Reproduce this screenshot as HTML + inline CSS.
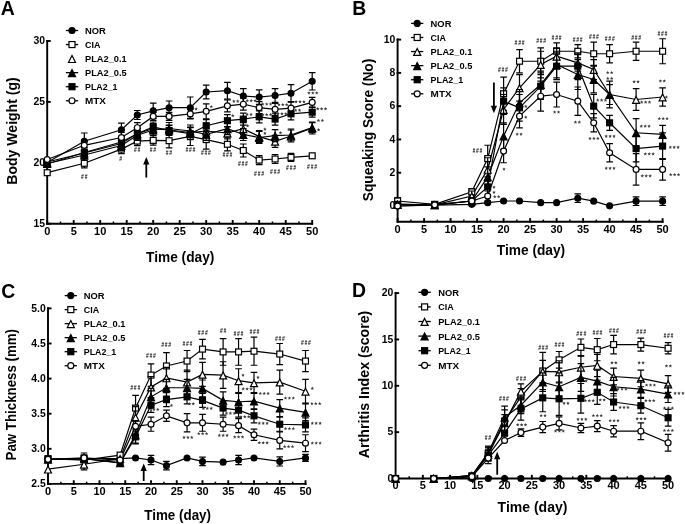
<!DOCTYPE html>
<html><head><meta charset="utf-8"><title>Figure</title>
<style>html,body{margin:0;padding:0;background:#fff;width:685px;height:524px;overflow:hidden}
svg text{font-family:"Liberation Sans", sans-serif} svg{will-change:transform}</style></head>
<body><svg width="685" height="524" viewBox="0 0 685 524" style="display:block"><g stroke="#000" stroke-width="1.9" fill="none" stroke-linecap="square">
<path d="M47.2 40.9V223.7H312.2"/>
<path d="M47.2 223.7h2.6"/>
<path d="M47.2 162.8h2.6"/>
<path d="M47.2 101.9h2.6"/>
<path d="M47.2 41h2.6"/>
<path d="M47.2 223.7v-2.7"/>
<path d="M73.7 223.7v-2.7"/>
<path d="M100.2 223.7v-2.7"/>
<path d="M126.7 223.7v-2.7"/>
<path d="M153.2 223.7v-2.7"/>
<path d="M179.7 223.7v-2.7"/>
<path d="M206.2 223.7v-2.7"/>
<path d="M232.7 223.7v-2.7"/>
<path d="M259.2 223.7v-2.7"/>
<path d="M285.7 223.7v-2.7"/>
<path d="M312.2 223.7v-2.7"/>
</g>
<g stroke="#000" stroke-width="1.5" fill="none">
<path d="M60.45 223.7v-2.2"/>
<path d="M86.95 223.7v-2.2"/>
<path d="M113.45 223.7v-2.2"/>
<path d="M139.95 223.7v-2.2"/>
<path d="M166.45 223.7v-2.2"/>
<path d="M192.95 223.7v-2.2"/>
<path d="M219.45 223.7v-2.2"/>
<path d="M245.95 223.7v-2.2"/>
<path d="M272.45 223.7v-2.2"/>
<path d="M298.95 223.7v-2.2"/>
</g>
<g font-family='"Liberation Sans", sans-serif' fill="#000">
<text x="45" y="226.9" font-size="10.4" font-weight="bold" text-anchor="end">15</text>
<text x="45" y="166" font-size="10.4" font-weight="bold" text-anchor="end">20</text>
<text x="45" y="105.1" font-size="10.4" font-weight="bold" text-anchor="end">25</text>
<text x="45" y="44.2" font-size="10.4" font-weight="bold" text-anchor="end">30</text>
<text x="47.2" y="234.6" font-size="11" font-weight="bold" text-anchor="middle">0</text>
<text x="73.7" y="234.6" font-size="11" font-weight="bold" text-anchor="middle">5</text>
<text x="100.2" y="234.6" font-size="11" font-weight="bold" text-anchor="middle">10</text>
<text x="126.7" y="234.6" font-size="11" font-weight="bold" text-anchor="middle">15</text>
<text x="153.2" y="234.6" font-size="11" font-weight="bold" text-anchor="middle">20</text>
<text x="179.7" y="234.6" font-size="11" font-weight="bold" text-anchor="middle">25</text>
<text x="206.2" y="234.6" font-size="11" font-weight="bold" text-anchor="middle">30</text>
<text x="232.7" y="234.6" font-size="11" font-weight="bold" text-anchor="middle">35</text>
<text x="259.2" y="234.6" font-size="11" font-weight="bold" text-anchor="middle">40</text>
<text x="285.7" y="234.6" font-size="11" font-weight="bold" text-anchor="middle">45</text>
<text x="312.2" y="234.6" font-size="11" font-weight="bold" text-anchor="middle">50</text>
<text x="0.8" y="15" font-size="19.4" font-weight="bold" text-anchor="start">A</text>
<text transform="translate(16.9 131) rotate(-90)" x="0" y="0" font-size="14" font-weight="bold" text-anchor="middle" textLength="107.4" lengthAdjust="spacingAndGlyphs">Body Weight (g)</text>
<text x="146" y="261.9" font-size="14" font-weight="bold" textLength="68.4" lengthAdjust="spacingAndGlyphs">Time (day)</text>
</g>
<g font-family='"Liberation Sans", sans-serif' fill="#000">
<path d="M65.85 30.5h12.3" stroke="#000" stroke-width="1.3"/>
<circle cx="72" cy="30.5" r="3" fill="#000" stroke="#000" stroke-width="1.2"/>
<text x="85" y="33.9" font-size="9.8" font-weight="bold" textLength="20.8" lengthAdjust="spacingAndGlyphs">NOR</text>
<path d="M65.85 44.55h12.3" stroke="#000" stroke-width="1.3"/>
<rect x="69" y="41.55" width="6" height="6" fill="#fff" stroke="#000" stroke-width="1.2"/>
<text x="85" y="47.95" font-size="9.8" font-weight="bold" textLength="15.4" lengthAdjust="spacingAndGlyphs">CIA</text>
<path d="M72 55.5L75.53 62.49L68.47 62.49Z" fill="#fff" stroke="#000" stroke-width="1.2" stroke-linejoin="miter"/>
<text x="85" y="62" font-size="9.8" font-weight="bold" textLength="41.7" lengthAdjust="spacingAndGlyphs">PLA2_0.1</text>
<path d="M65.85 72.65h12.3" stroke="#000" stroke-width="1.3"/>
<path d="M72 69.55L75.53 76.54L68.47 76.54Z" fill="#000" stroke="#000" stroke-width="1.2" stroke-linejoin="miter"/>
<text x="85" y="76.05" font-size="9.8" font-weight="bold" textLength="41.7" lengthAdjust="spacingAndGlyphs">PLA2_0.5</text>
<path d="M65.85 86.7h12.3" stroke="#000" stroke-width="1.3"/>
<rect x="69" y="83.7" width="6" height="6" fill="#000" stroke="#000" stroke-width="1.2"/>
<text x="85" y="90.1" font-size="9.8" font-weight="bold" textLength="32.5" lengthAdjust="spacingAndGlyphs">PLA2_1</text>
<path d="M65.85 100.75h12.3" stroke="#000" stroke-width="1.3"/>
<circle cx="72" cy="100.75" r="3" fill="#fff" stroke="#000" stroke-width="1.2"/>
<text x="85" y="104.15" font-size="9.8" font-weight="bold" textLength="21" lengthAdjust="spacingAndGlyphs">MTX</text>
</g>
<polyline points="47.2,162.5 84.3,141.2 121.4,129.7 137.3,115 153.2,110.8 169.1,107.7 190.3,107.7 206.2,92 227.4,90.7 243.3,96 259.2,97.1 275.1,95.5 291,93.2 312.2,81.3" fill="none" stroke="#000" stroke-width="1.2"/>
<polyline points="47.2,172.7 84.3,163.3 121.4,149.1 137.3,141.1 153.2,140.4 169.1,140.7 190.3,136.3 206.2,139.6 227.4,144.3 243.3,150.5 259.2,160.1 275.1,159 291,157.4 312.2,155.8" fill="none" stroke="#000" stroke-width="1.2"/>
<polyline points="47.2,162 84.3,153 121.4,143.5 137.3,133.6 153.2,128.5 169.1,130 190.3,132.5 206.2,131 227.4,133 243.3,128.7 259.2,136.6 275.1,141.3 291,136 312.2,128" fill="none" stroke="#000" stroke-width="1.2"/>
<polyline points="47.2,163.5 84.3,155 121.4,145.5 137.3,135.3 153.2,130 169.1,128.5 190.3,131 206.2,134.4 227.4,128.7 243.3,134.5 259.2,137.5 275.1,135.6 291,135 312.2,127.6" fill="none" stroke="#000" stroke-width="1.2"/>
<polyline points="47.2,164 84.3,152.5 121.4,142 137.3,133.7 153.2,127 169.1,130.5 190.3,133.7 206.2,125.7 227.4,120.7 243.3,119.1 259.2,116.8 275.1,119.1 291,113.8 312.2,112.2" fill="none" stroke="#000" stroke-width="1.2"/>
<polyline points="47.2,159.5 84.3,145.3 121.4,137.5 137.3,127.7 153.2,116.4 169.1,116.4 190.3,113.9 206.2,111.3 227.4,105.8 243.3,104.2 259.2,107.7 275.1,109.3 291,108.1 312.2,102.4" fill="none" stroke="#000" stroke-width="1.2"/>
<path d="M47.2 159V166M43.9 159h6.6M43.9 166h6.6" stroke="#000" stroke-width="1.2" fill="none"/><circle cx="47.2" cy="162.5" r="2.95" fill="#000" stroke="#000" stroke-width="1.2"/><path d="M84.3 133V149.4M81 133h6.6M81 149.4h6.6" stroke="#000" stroke-width="1.2" fill="none"/><circle cx="84.3" cy="141.2" r="2.95" fill="#000" stroke="#000" stroke-width="1.2"/><path d="M121.4 123.1V136.3M118.1 123.1h6.6M118.1 136.3h6.6" stroke="#000" stroke-width="1.2" fill="none"/><circle cx="121.4" cy="129.7" r="2.95" fill="#000" stroke="#000" stroke-width="1.2"/><path d="M137.3 110.5V119.5M134 110.5h6.6M134 119.5h6.6" stroke="#000" stroke-width="1.2" fill="none"/><circle cx="137.3" cy="115" r="2.95" fill="#000" stroke="#000" stroke-width="1.2"/><path d="M153.2 103.2V118.4M149.9 103.2h6.6M149.9 118.4h6.6" stroke="#000" stroke-width="1.2" fill="none"/><circle cx="153.2" cy="110.8" r="2.95" fill="#000" stroke="#000" stroke-width="1.2"/><path d="M169.1 101V114.4M165.8 101h6.6M165.8 114.4h6.6" stroke="#000" stroke-width="1.2" fill="none"/><circle cx="169.1" cy="107.7" r="2.95" fill="#000" stroke="#000" stroke-width="1.2"/><path d="M190.3 97V118.4M187 97h6.6M187 118.4h6.6" stroke="#000" stroke-width="1.2" fill="none"/><circle cx="190.3" cy="107.7" r="2.95" fill="#000" stroke="#000" stroke-width="1.2"/><path d="M206.2 85.1V98.9M202.9 85.1h6.6M202.9 98.9h6.6" stroke="#000" stroke-width="1.2" fill="none"/><circle cx="206.2" cy="92" r="2.95" fill="#000" stroke="#000" stroke-width="1.2"/><path d="M227.4 82.4V99M224.1 82.4h6.6M224.1 99h6.6" stroke="#000" stroke-width="1.2" fill="none"/><circle cx="227.4" cy="90.7" r="2.95" fill="#000" stroke="#000" stroke-width="1.2"/><path d="M243.3 88.6V103.4M240 88.6h6.6M240 103.4h6.6" stroke="#000" stroke-width="1.2" fill="none"/><circle cx="243.3" cy="96" r="2.95" fill="#000" stroke="#000" stroke-width="1.2"/><path d="M259.2 89.8V104.4M255.9 89.8h6.6M255.9 104.4h6.6" stroke="#000" stroke-width="1.2" fill="none"/><circle cx="259.2" cy="97.1" r="2.95" fill="#000" stroke="#000" stroke-width="1.2"/><path d="M275.1 88.6V102.4M271.8 88.6h6.6M271.8 102.4h6.6" stroke="#000" stroke-width="1.2" fill="none"/><circle cx="275.1" cy="95.5" r="2.95" fill="#000" stroke="#000" stroke-width="1.2"/><path d="M291 84.7V101.7M287.7 84.7h6.6M287.7 101.7h6.6" stroke="#000" stroke-width="1.2" fill="none"/><circle cx="291" cy="93.2" r="2.95" fill="#000" stroke="#000" stroke-width="1.2"/><path d="M312.2 72.6V90M308.9 72.6h6.6M308.9 90h6.6" stroke="#000" stroke-width="1.2" fill="none"/><circle cx="312.2" cy="81.3" r="2.95" fill="#000" stroke="#000" stroke-width="1.2"/>
<rect x="44.25" y="169.75" width="5.9" height="5.9" fill="#fff" stroke="#000" stroke-width="1.2"/><path d="M84.3 158.8V167.8M81 158.8h6.6M81 167.8h6.6" stroke="#000" stroke-width="1.2" fill="none"/><rect x="81.35" y="160.35" width="5.9" height="5.9" fill="#fff" stroke="#000" stroke-width="1.2"/><path d="M121.4 144.6V153.6M118.1 144.6h6.6M118.1 153.6h6.6" stroke="#000" stroke-width="1.2" fill="none"/><rect x="118.45" y="146.15" width="5.9" height="5.9" fill="#fff" stroke="#000" stroke-width="1.2"/><path d="M137.3 136.6V145.6M134 136.6h6.6M134 145.6h6.6" stroke="#000" stroke-width="1.2" fill="none"/><rect x="134.35" y="138.15" width="5.9" height="5.9" fill="#fff" stroke="#000" stroke-width="1.2"/><path d="M153.2 135.7V145.1M149.9 135.7h6.6M149.9 145.1h6.6" stroke="#000" stroke-width="1.2" fill="none"/><rect x="150.25" y="137.45" width="5.9" height="5.9" fill="#fff" stroke="#000" stroke-width="1.2"/><path d="M169.1 133.6V147.8M165.8 133.6h6.6M165.8 147.8h6.6" stroke="#000" stroke-width="1.2" fill="none"/><rect x="166.15" y="137.75" width="5.9" height="5.9" fill="#fff" stroke="#000" stroke-width="1.2"/><path d="M190.3 127.1V145.5M187 127.1h6.6M187 145.5h6.6" stroke="#000" stroke-width="1.2" fill="none"/><rect x="187.35" y="133.35" width="5.9" height="5.9" fill="#fff" stroke="#000" stroke-width="1.2"/><path d="M206.2 130.1V149.1M202.9 130.1h6.6M202.9 149.1h6.6" stroke="#000" stroke-width="1.2" fill="none"/><rect x="203.25" y="136.65" width="5.9" height="5.9" fill="#fff" stroke="#000" stroke-width="1.2"/><path d="M227.4 137.8V150.8M224.1 137.8h6.6M224.1 150.8h6.6" stroke="#000" stroke-width="1.2" fill="none"/><rect x="224.45" y="141.35" width="5.9" height="5.9" fill="#fff" stroke="#000" stroke-width="1.2"/><path d="M243.3 144V157M240 144h6.6M240 157h6.6" stroke="#000" stroke-width="1.2" fill="none"/><rect x="240.35" y="147.55" width="5.9" height="5.9" fill="#fff" stroke="#000" stroke-width="1.2"/><path d="M259.2 155.6V164.6M255.9 155.6h6.6M255.9 164.6h6.6" stroke="#000" stroke-width="1.2" fill="none"/><rect x="256.25" y="157.15" width="5.9" height="5.9" fill="#fff" stroke="#000" stroke-width="1.2"/><path d="M275.1 154.5V163.5M271.8 154.5h6.6M271.8 163.5h6.6" stroke="#000" stroke-width="1.2" fill="none"/><rect x="272.15" y="156.05" width="5.9" height="5.9" fill="#fff" stroke="#000" stroke-width="1.2"/><path d="M291 153.4V161.4M287.7 153.4h6.6M287.7 161.4h6.6" stroke="#000" stroke-width="1.2" fill="none"/><rect x="288.05" y="154.45" width="5.9" height="5.9" fill="#fff" stroke="#000" stroke-width="1.2"/><rect x="309.25" y="152.85" width="5.9" height="5.9" fill="#fff" stroke="#000" stroke-width="1.2"/>
<path d="M47.2 158.95L50.68 165.83L43.72 165.83Z" fill="#fff" stroke="#000" stroke-width="1.2" stroke-linejoin="miter"/><path d="M84.3 148V158M81 148h6.6M81 158h6.6" stroke="#000" stroke-width="1.2" fill="none"/><path d="M84.3 149.95L87.78 156.83L80.82 156.83Z" fill="#fff" stroke="#000" stroke-width="1.2" stroke-linejoin="miter"/><path d="M121.4 138.5V148.5M118.1 138.5h6.6M118.1 148.5h6.6" stroke="#000" stroke-width="1.2" fill="none"/><path d="M121.4 140.45L124.88 147.33L117.92 147.33Z" fill="#fff" stroke="#000" stroke-width="1.2" stroke-linejoin="miter"/><path d="M137.3 128.6V138.6M134 128.6h6.6M134 138.6h6.6" stroke="#000" stroke-width="1.2" fill="none"/><path d="M137.3 130.55L140.78 137.43L133.82 137.43Z" fill="#fff" stroke="#000" stroke-width="1.2" stroke-linejoin="miter"/><path d="M153.2 123.5V133.5M149.9 123.5h6.6M149.9 133.5h6.6" stroke="#000" stroke-width="1.2" fill="none"/><path d="M153.2 125.45L156.68 132.33L149.72 132.33Z" fill="#fff" stroke="#000" stroke-width="1.2" stroke-linejoin="miter"/><path d="M169.1 125V135M165.8 125h6.6M165.8 135h6.6" stroke="#000" stroke-width="1.2" fill="none"/><path d="M169.1 126.95L172.58 133.83L165.62 133.83Z" fill="#fff" stroke="#000" stroke-width="1.2" stroke-linejoin="miter"/><path d="M190.3 127.5V137.5M187 127.5h6.6M187 137.5h6.6" stroke="#000" stroke-width="1.2" fill="none"/><path d="M190.3 129.45L193.78 136.33L186.82 136.33Z" fill="#fff" stroke="#000" stroke-width="1.2" stroke-linejoin="miter"/><path d="M206.2 126V136M202.9 126h6.6M202.9 136h6.6" stroke="#000" stroke-width="1.2" fill="none"/><path d="M206.2 127.95L209.68 134.83L202.72 134.83Z" fill="#fff" stroke="#000" stroke-width="1.2" stroke-linejoin="miter"/><path d="M227.4 127V139M224.1 127h6.6M224.1 139h6.6" stroke="#000" stroke-width="1.2" fill="none"/><path d="M227.4 129.95L230.88 136.83L223.92 136.83Z" fill="#fff" stroke="#000" stroke-width="1.2" stroke-linejoin="miter"/><path d="M243.3 122.7V134.7M240 122.7h6.6M240 134.7h6.6" stroke="#000" stroke-width="1.2" fill="none"/><path d="M243.3 125.65L246.78 132.53L239.82 132.53Z" fill="#fff" stroke="#000" stroke-width="1.2" stroke-linejoin="miter"/><path d="M259.2 130.6V142.6M255.9 130.6h6.6M255.9 142.6h6.6" stroke="#000" stroke-width="1.2" fill="none"/><path d="M259.2 133.55L262.68 140.43L255.72 140.43Z" fill="#fff" stroke="#000" stroke-width="1.2" stroke-linejoin="miter"/><path d="M275.1 135.3V147.3M271.8 135.3h6.6M271.8 147.3h6.6" stroke="#000" stroke-width="1.2" fill="none"/><path d="M275.1 138.25L278.58 145.13L271.62 145.13Z" fill="#fff" stroke="#000" stroke-width="1.2" stroke-linejoin="miter"/><path d="M291 130V142M287.7 130h6.6M287.7 142h6.6" stroke="#000" stroke-width="1.2" fill="none"/><path d="M291 132.95L294.48 139.83L287.52 139.83Z" fill="#fff" stroke="#000" stroke-width="1.2" stroke-linejoin="miter"/><path d="M312.2 122V134M308.9 122h6.6M308.9 134h6.6" stroke="#000" stroke-width="1.2" fill="none"/><path d="M312.2 124.95L315.68 131.83L308.72 131.83Z" fill="#fff" stroke="#000" stroke-width="1.2" stroke-linejoin="miter"/>
<path d="M47.2 160.45L50.68 167.33L43.72 167.33Z" fill="#000" stroke="#000" stroke-width="1.2" stroke-linejoin="miter"/><path d="M84.3 150V160M81 150h6.6M81 160h6.6" stroke="#000" stroke-width="1.2" fill="none"/><path d="M84.3 151.95L87.78 158.83L80.82 158.83Z" fill="#000" stroke="#000" stroke-width="1.2" stroke-linejoin="miter"/><path d="M121.4 140.5V150.5M118.1 140.5h6.6M118.1 150.5h6.6" stroke="#000" stroke-width="1.2" fill="none"/><path d="M121.4 142.45L124.88 149.33L117.92 149.33Z" fill="#000" stroke="#000" stroke-width="1.2" stroke-linejoin="miter"/><path d="M137.3 130.3V140.3M134 130.3h6.6M134 140.3h6.6" stroke="#000" stroke-width="1.2" fill="none"/><path d="M137.3 132.25L140.78 139.13L133.82 139.13Z" fill="#000" stroke="#000" stroke-width="1.2" stroke-linejoin="miter"/><path d="M153.2 125V135M149.9 125h6.6M149.9 135h6.6" stroke="#000" stroke-width="1.2" fill="none"/><path d="M153.2 126.95L156.68 133.83L149.72 133.83Z" fill="#000" stroke="#000" stroke-width="1.2" stroke-linejoin="miter"/><path d="M169.1 122.5V134.5M165.8 122.5h6.6M165.8 134.5h6.6" stroke="#000" stroke-width="1.2" fill="none"/><path d="M169.1 125.45L172.58 132.33L165.62 132.33Z" fill="#000" stroke="#000" stroke-width="1.2" stroke-linejoin="miter"/><path d="M190.3 125V137M187 125h6.6M187 137h6.6" stroke="#000" stroke-width="1.2" fill="none"/><path d="M190.3 127.95L193.78 134.83L186.82 134.83Z" fill="#000" stroke="#000" stroke-width="1.2" stroke-linejoin="miter"/><path d="M206.2 128.4V140.4M202.9 128.4h6.6M202.9 140.4h6.6" stroke="#000" stroke-width="1.2" fill="none"/><path d="M206.2 131.35L209.68 138.23L202.72 138.23Z" fill="#000" stroke="#000" stroke-width="1.2" stroke-linejoin="miter"/><path d="M227.4 122.7V134.7M224.1 122.7h6.6M224.1 134.7h6.6" stroke="#000" stroke-width="1.2" fill="none"/><path d="M227.4 125.65L230.88 132.53L223.92 132.53Z" fill="#000" stroke="#000" stroke-width="1.2" stroke-linejoin="miter"/><path d="M243.3 128.5V140.5M240 128.5h6.6M240 140.5h6.6" stroke="#000" stroke-width="1.2" fill="none"/><path d="M243.3 131.45L246.78 138.33L239.82 138.33Z" fill="#000" stroke="#000" stroke-width="1.2" stroke-linejoin="miter"/><path d="M259.2 131.5V143.5M255.9 131.5h6.6M255.9 143.5h6.6" stroke="#000" stroke-width="1.2" fill="none"/><path d="M259.2 134.45L262.68 141.33L255.72 141.33Z" fill="#000" stroke="#000" stroke-width="1.2" stroke-linejoin="miter"/><path d="M275.1 129.6V141.6M271.8 129.6h6.6M271.8 141.6h6.6" stroke="#000" stroke-width="1.2" fill="none"/><path d="M275.1 132.55L278.58 139.43L271.62 139.43Z" fill="#000" stroke="#000" stroke-width="1.2" stroke-linejoin="miter"/><path d="M291 129V141M287.7 129h6.6M287.7 141h6.6" stroke="#000" stroke-width="1.2" fill="none"/><path d="M291 131.95L294.48 138.83L287.52 138.83Z" fill="#000" stroke="#000" stroke-width="1.2" stroke-linejoin="miter"/><path d="M312.2 122.6V132.6M308.9 122.6h6.6M308.9 132.6h6.6" stroke="#000" stroke-width="1.2" fill="none"/><path d="M312.2 124.55L315.68 131.43L308.72 131.43Z" fill="#000" stroke="#000" stroke-width="1.2" stroke-linejoin="miter"/>
<rect x="44.25" y="161.05" width="5.9" height="5.9" fill="#000" stroke="#000" stroke-width="1.2"/><path d="M84.3 147.5V157.5M81 147.5h6.6M81 157.5h6.6" stroke="#000" stroke-width="1.2" fill="none"/><rect x="81.35" y="149.55" width="5.9" height="5.9" fill="#000" stroke="#000" stroke-width="1.2"/><path d="M121.4 137V147M118.1 137h6.6M118.1 147h6.6" stroke="#000" stroke-width="1.2" fill="none"/><rect x="118.45" y="139.05" width="5.9" height="5.9" fill="#000" stroke="#000" stroke-width="1.2"/><path d="M137.3 128.7V138.7M134 128.7h6.6M134 138.7h6.6" stroke="#000" stroke-width="1.2" fill="none"/><rect x="134.35" y="130.75" width="5.9" height="5.9" fill="#000" stroke="#000" stroke-width="1.2"/><path d="M153.2 122V132M149.9 122h6.6M149.9 132h6.6" stroke="#000" stroke-width="1.2" fill="none"/><rect x="150.25" y="124.05" width="5.9" height="5.9" fill="#000" stroke="#000" stroke-width="1.2"/><path d="M169.1 125.5V135.5M165.8 125.5h6.6M165.8 135.5h6.6" stroke="#000" stroke-width="1.2" fill="none"/><rect x="166.15" y="127.55" width="5.9" height="5.9" fill="#000" stroke="#000" stroke-width="1.2"/><path d="M190.3 127.7V139.7M187 127.7h6.6M187 139.7h6.6" stroke="#000" stroke-width="1.2" fill="none"/><rect x="187.35" y="130.75" width="5.9" height="5.9" fill="#000" stroke="#000" stroke-width="1.2"/><path d="M206.2 119.7V131.7M202.9 119.7h6.6M202.9 131.7h6.6" stroke="#000" stroke-width="1.2" fill="none"/><rect x="203.25" y="122.75" width="5.9" height="5.9" fill="#000" stroke="#000" stroke-width="1.2"/><path d="M227.4 114.7V126.7M224.1 114.7h6.6M224.1 126.7h6.6" stroke="#000" stroke-width="1.2" fill="none"/><rect x="224.45" y="117.75" width="5.9" height="5.9" fill="#000" stroke="#000" stroke-width="1.2"/><path d="M243.3 113.1V125.1M240 113.1h6.6M240 125.1h6.6" stroke="#000" stroke-width="1.2" fill="none"/><rect x="240.35" y="116.15" width="5.9" height="5.9" fill="#000" stroke="#000" stroke-width="1.2"/><path d="M259.2 110.8V122.8M255.9 110.8h6.6M255.9 122.8h6.6" stroke="#000" stroke-width="1.2" fill="none"/><rect x="256.25" y="113.85" width="5.9" height="5.9" fill="#000" stroke="#000" stroke-width="1.2"/><path d="M275.1 113.1V125.1M271.8 113.1h6.6M271.8 125.1h6.6" stroke="#000" stroke-width="1.2" fill="none"/><rect x="272.15" y="116.15" width="5.9" height="5.9" fill="#000" stroke="#000" stroke-width="1.2"/><path d="M291 107.8V119.8M287.7 107.8h6.6M287.7 119.8h6.6" stroke="#000" stroke-width="1.2" fill="none"/><rect x="288.05" y="110.85" width="5.9" height="5.9" fill="#000" stroke="#000" stroke-width="1.2"/><path d="M312.2 107.2V117.2M308.9 107.2h6.6M308.9 117.2h6.6" stroke="#000" stroke-width="1.2" fill="none"/><rect x="309.25" y="109.25" width="5.9" height="5.9" fill="#000" stroke="#000" stroke-width="1.2"/>
<circle cx="47.2" cy="159.5" r="2.95" fill="#fff" stroke="#000" stroke-width="1.2"/><path d="M84.3 140.3V150.3M81 140.3h6.6M81 150.3h6.6" stroke="#000" stroke-width="1.2" fill="none"/><circle cx="84.3" cy="145.3" r="2.95" fill="#fff" stroke="#000" stroke-width="1.2"/><path d="M121.4 132.5V142.5M118.1 132.5h6.6M118.1 142.5h6.6" stroke="#000" stroke-width="1.2" fill="none"/><circle cx="121.4" cy="137.5" r="2.95" fill="#fff" stroke="#000" stroke-width="1.2"/><path d="M137.3 122.7V132.7M134 122.7h6.6M134 132.7h6.6" stroke="#000" stroke-width="1.2" fill="none"/><circle cx="137.3" cy="127.7" r="2.95" fill="#fff" stroke="#000" stroke-width="1.2"/><path d="M153.2 112.4V120.4M149.9 112.4h6.6M149.9 120.4h6.6" stroke="#000" stroke-width="1.2" fill="none"/><circle cx="153.2" cy="116.4" r="2.95" fill="#fff" stroke="#000" stroke-width="1.2"/><path d="M169.1 112.4V120.4M165.8 112.4h6.6M165.8 120.4h6.6" stroke="#000" stroke-width="1.2" fill="none"/><circle cx="169.1" cy="116.4" r="2.95" fill="#fff" stroke="#000" stroke-width="1.2"/><path d="M190.3 108.9V118.9M187 108.9h6.6M187 118.9h6.6" stroke="#000" stroke-width="1.2" fill="none"/><circle cx="190.3" cy="113.9" r="2.95" fill="#fff" stroke="#000" stroke-width="1.2"/><path d="M206.2 103.8V118.8M202.9 103.8h6.6M202.9 118.8h6.6" stroke="#000" stroke-width="1.2" fill="none"/><circle cx="206.2" cy="111.3" r="2.95" fill="#fff" stroke="#000" stroke-width="1.2"/><path d="M227.4 99.8V111.8M224.1 99.8h6.6M224.1 111.8h6.6" stroke="#000" stroke-width="1.2" fill="none"/><circle cx="227.4" cy="105.8" r="2.95" fill="#fff" stroke="#000" stroke-width="1.2"/><path d="M243.3 98.2V110.2M240 98.2h6.6M240 110.2h6.6" stroke="#000" stroke-width="1.2" fill="none"/><circle cx="243.3" cy="104.2" r="2.95" fill="#fff" stroke="#000" stroke-width="1.2"/><path d="M259.2 101.7V113.7M255.9 101.7h6.6M255.9 113.7h6.6" stroke="#000" stroke-width="1.2" fill="none"/><circle cx="259.2" cy="107.7" r="2.95" fill="#fff" stroke="#000" stroke-width="1.2"/><path d="M275.1 103.3V115.3M271.8 103.3h6.6M271.8 115.3h6.6" stroke="#000" stroke-width="1.2" fill="none"/><circle cx="275.1" cy="109.3" r="2.95" fill="#fff" stroke="#000" stroke-width="1.2"/><path d="M291 102.1V114.1M287.7 102.1h6.6M287.7 114.1h6.6" stroke="#000" stroke-width="1.2" fill="none"/><circle cx="291" cy="108.1" r="2.95" fill="#fff" stroke="#000" stroke-width="1.2"/><path d="M312.2 97.4V107.4M308.9 97.4h6.6M308.9 107.4h6.6" stroke="#000" stroke-width="1.2" fill="none"/><circle cx="312.2" cy="102.4" r="2.95" fill="#fff" stroke="#000" stroke-width="1.2"/>
<path d="M146.3 162V177.5" stroke="#000" stroke-width="1.8"/>
<path d="M146.3 157L149.4 164.5L143.2 164.5Z" fill="#000"/>
<g stroke="#000" stroke-width="1.9" fill="none" stroke-linecap="square">
<path d="M397.6 39.5V221.8H662.6"/>
<path d="M397.6 206h2.6"/>
<path d="M397.6 172.72h2.6"/>
<path d="M397.6 139.44h2.6"/>
<path d="M397.6 106.16h2.6"/>
<path d="M397.6 72.88h2.6"/>
<path d="M397.6 39.6h2.6"/>
<path d="M397.6 221.8v-2.7"/>
<path d="M424.1 221.8v-2.7"/>
<path d="M450.6 221.8v-2.7"/>
<path d="M477.1 221.8v-2.7"/>
<path d="M503.6 221.8v-2.7"/>
<path d="M530.1 221.8v-2.7"/>
<path d="M556.6 221.8v-2.7"/>
<path d="M583.1 221.8v-2.7"/>
<path d="M609.6 221.8v-2.7"/>
<path d="M636.1 221.8v-2.7"/>
<path d="M662.6 221.8v-2.7"/>
</g>
<g stroke="#000" stroke-width="1.5" fill="none">
<path d="M410.85 221.8v-2.2"/>
<path d="M437.35 221.8v-2.2"/>
<path d="M463.85 221.8v-2.2"/>
<path d="M490.35 221.8v-2.2"/>
<path d="M516.85 221.8v-2.2"/>
<path d="M543.35 221.8v-2.2"/>
<path d="M569.85 221.8v-2.2"/>
<path d="M596.35 221.8v-2.2"/>
<path d="M622.85 221.8v-2.2"/>
<path d="M649.35 221.8v-2.2"/>
</g>
<g font-family='"Liberation Sans", sans-serif' fill="#000">
<text x="395.4" y="209.2" font-size="10.4" font-weight="bold" text-anchor="end">0</text>
<text x="395.4" y="175.92" font-size="10.4" font-weight="bold" text-anchor="end">2</text>
<text x="395.4" y="142.64" font-size="10.4" font-weight="bold" text-anchor="end">4</text>
<text x="395.4" y="109.36" font-size="10.4" font-weight="bold" text-anchor="end">6</text>
<text x="395.4" y="76.08" font-size="10.4" font-weight="bold" text-anchor="end">8</text>
<text x="395.4" y="42.8" font-size="10.4" font-weight="bold" text-anchor="end">10</text>
<text x="397.6" y="232.7" font-size="11" font-weight="bold" text-anchor="middle">0</text>
<text x="424.1" y="232.7" font-size="11" font-weight="bold" text-anchor="middle">5</text>
<text x="450.6" y="232.7" font-size="11" font-weight="bold" text-anchor="middle">10</text>
<text x="477.1" y="232.7" font-size="11" font-weight="bold" text-anchor="middle">15</text>
<text x="503.6" y="232.7" font-size="11" font-weight="bold" text-anchor="middle">20</text>
<text x="530.1" y="232.7" font-size="11" font-weight="bold" text-anchor="middle">25</text>
<text x="556.6" y="232.7" font-size="11" font-weight="bold" text-anchor="middle">30</text>
<text x="583.1" y="232.7" font-size="11" font-weight="bold" text-anchor="middle">35</text>
<text x="609.6" y="232.7" font-size="11" font-weight="bold" text-anchor="middle">40</text>
<text x="636.1" y="232.7" font-size="11" font-weight="bold" text-anchor="middle">45</text>
<text x="662.6" y="232.7" font-size="11" font-weight="bold" text-anchor="middle">50</text>
<text x="352.2" y="15" font-size="19.4" font-weight="bold" text-anchor="start">B</text>
<text transform="translate(372.9 130) rotate(-90)" x="0" y="0" font-size="14" font-weight="bold" text-anchor="middle" textLength="142.5" lengthAdjust="spacingAndGlyphs">Squeaking Score (No)</text>
<text x="496.8" y="255.4" font-size="14" font-weight="bold" textLength="68.4" lengthAdjust="spacingAndGlyphs">Time (day)</text>
</g>
<g font-family='"Liberation Sans", sans-serif' fill="#000">
<path d="M411.05 23.4h12.3" stroke="#000" stroke-width="1.3"/>
<circle cx="417.2" cy="23.4" r="3" fill="#000" stroke="#000" stroke-width="1.2"/>
<text x="430.6" y="26.8" font-size="9.8" font-weight="bold" textLength="20.8" lengthAdjust="spacingAndGlyphs">NOR</text>
<path d="M411.05 37.48h12.3" stroke="#000" stroke-width="1.3"/>
<rect x="414.2" y="34.48" width="6" height="6" fill="#fff" stroke="#000" stroke-width="1.2"/>
<text x="430.6" y="40.88" font-size="9.8" font-weight="bold" textLength="15.4" lengthAdjust="spacingAndGlyphs">CIA</text>
<path d="M411.05 51.56h12.3" stroke="#000" stroke-width="1.3"/>
<path d="M417.2 48.46L420.73 55.45L413.67 55.45Z" fill="#fff" stroke="#000" stroke-width="1.2" stroke-linejoin="miter"/>
<text x="430.6" y="54.96" font-size="9.8" font-weight="bold" textLength="41.7" lengthAdjust="spacingAndGlyphs">PLA2_0.1</text>
<path d="M411.05 65.64h12.3" stroke="#000" stroke-width="1.3"/>
<path d="M417.2 62.54L420.73 69.53L413.67 69.53Z" fill="#000" stroke="#000" stroke-width="1.2" stroke-linejoin="miter"/>
<text x="430.6" y="69.04" font-size="9.8" font-weight="bold" textLength="41.7" lengthAdjust="spacingAndGlyphs">PLA2_0.5</text>
<path d="M411.05 79.72h12.3" stroke="#000" stroke-width="1.3"/>
<rect x="414.2" y="76.72" width="6" height="6" fill="#000" stroke="#000" stroke-width="1.2"/>
<text x="430.6" y="83.12" font-size="9.8" font-weight="bold" textLength="32.5" lengthAdjust="spacingAndGlyphs">PLA2_1</text>
<path d="M411.05 93.8h12.3" stroke="#000" stroke-width="1.3"/>
<circle cx="417.2" cy="93.8" r="3" fill="#fff" stroke="#000" stroke-width="1.2"/>
<text x="430.6" y="97.2" font-size="9.8" font-weight="bold" textLength="21" lengthAdjust="spacingAndGlyphs">MTX</text>
</g>
<polyline points="397.6,206 434.7,205.17 471.8,204.34 487.7,202.67 503.6,201.01 519.5,201.01 540.7,202.67 556.6,202.67 577.8,198.18 593.7,201.17 609.6,205.83 636.1,201.17 662.6,201.17" fill="none" stroke="#000" stroke-width="1.2"/>
<polyline points="397.6,201.01 434.7,204.34 471.8,191.86 487.7,158.58 503.6,93.68 519.5,61.23 540.7,61.23 556.6,51.25 577.8,51.25 593.7,53.74 609.6,53.74 636.1,51.25 662.6,51.25" fill="none" stroke="#000" stroke-width="1.2"/>
<polyline points="397.6,204.34 434.7,204.84 471.8,196.02 487.7,169.39 503.6,109.49 519.5,87.86 540.7,64.56 556.6,56.24 577.8,62.9 593.7,69.55 609.6,94.51 636.1,99.5 662.6,97.01" fill="none" stroke="#000" stroke-width="1.2"/>
<polyline points="397.6,204.34 434.7,204.84 471.8,201.01 487.7,176.88 503.6,136.11 519.5,102.83 540.7,84.53 556.6,64.56 577.8,74.54 593.7,79.54 609.6,94.51 636.1,132.78 662.6,134.45" fill="none" stroke="#000" stroke-width="1.2"/>
<polyline points="397.6,204.34 434.7,204.84 471.8,201.01 487.7,186.86 503.6,101.17 519.5,107.82 540.7,86.19 556.6,66.22 577.8,66.22 593.7,106.16 609.6,122.8 636.1,148.59 662.6,146.1" fill="none" stroke="#000" stroke-width="1.2"/>
<polyline points="397.6,206 434.7,204.84 471.8,201.01 487.7,196.02 503.6,151.09 519.5,116.14 540.7,96.18 556.6,94.51 577.8,101.17 593.7,122.8 609.6,152.75 636.1,169.39 662.6,169.39" fill="none" stroke="#000" stroke-width="1.2"/>
<circle cx="397.6" cy="206" r="2.95" fill="#000" stroke="#000" stroke-width="1.2"/><circle cx="434.7" cy="205.17" r="2.95" fill="#000" stroke="#000" stroke-width="1.2"/><circle cx="471.8" cy="204.34" r="2.95" fill="#000" stroke="#000" stroke-width="1.2"/><circle cx="487.7" cy="202.67" r="2.95" fill="#000" stroke="#000" stroke-width="1.2"/><circle cx="503.6" cy="201.01" r="2.95" fill="#000" stroke="#000" stroke-width="1.2"/><circle cx="519.5" cy="201.01" r="2.95" fill="#000" stroke="#000" stroke-width="1.2"/><circle cx="540.7" cy="202.67" r="2.95" fill="#000" stroke="#000" stroke-width="1.2"/><circle cx="556.6" cy="202.67" r="2.95" fill="#000" stroke="#000" stroke-width="1.2"/><path d="M577.8 193.85V202.51M574.5 193.85h6.6M574.5 202.51h6.6" stroke="#000" stroke-width="1.2" fill="none"/><circle cx="577.8" cy="198.18" r="2.95" fill="#000" stroke="#000" stroke-width="1.2"/><circle cx="593.7" cy="201.17" r="2.95" fill="#000" stroke="#000" stroke-width="1.2"/><circle cx="609.6" cy="205.83" r="2.95" fill="#000" stroke="#000" stroke-width="1.2"/><path d="M636.1 196.85V205.5M632.8 196.85h6.6M632.8 205.5h6.6" stroke="#000" stroke-width="1.2" fill="none"/><circle cx="636.1" cy="201.17" r="2.95" fill="#000" stroke="#000" stroke-width="1.2"/><path d="M662.6 196.85V205.5M659.3 196.85h6.6M659.3 205.5h6.6" stroke="#000" stroke-width="1.2" fill="none"/><circle cx="662.6" cy="201.17" r="2.95" fill="#000" stroke="#000" stroke-width="1.2"/>
<path d="M397.6 197.68V204.34M394.3 197.68h6.6M394.3 204.34h6.6" stroke="#000" stroke-width="1.2" fill="none"/><rect x="394.65" y="198.06" width="5.9" height="5.9" fill="#fff" stroke="#000" stroke-width="1.2"/><rect x="431.75" y="201.39" width="5.9" height="5.9" fill="#fff" stroke="#000" stroke-width="1.2"/><path d="M471.8 188.53V195.18M468.5 188.53h6.6M468.5 195.18h6.6" stroke="#000" stroke-width="1.2" fill="none"/><rect x="468.85" y="188.91" width="5.9" height="5.9" fill="#fff" stroke="#000" stroke-width="1.2"/><path d="M487.7 145.26V171.89M484.4 145.26h6.6M484.4 171.89h6.6" stroke="#000" stroke-width="1.2" fill="none"/><rect x="484.75" y="155.63" width="5.9" height="5.9" fill="#fff" stroke="#000" stroke-width="1.2"/><path d="M503.6 77.04V110.32M500.3 77.04h6.6M500.3 110.32h6.6" stroke="#000" stroke-width="1.2" fill="none"/><rect x="500.65" y="90.73" width="5.9" height="5.9" fill="#fff" stroke="#000" stroke-width="1.2"/><path d="M519.5 49.58V72.88M516.2 49.58h6.6M516.2 72.88h6.6" stroke="#000" stroke-width="1.2" fill="none"/><rect x="516.55" y="58.28" width="5.9" height="5.9" fill="#fff" stroke="#000" stroke-width="1.2"/><path d="M540.7 47.92V74.54M537.4 47.92h6.6M537.4 74.54h6.6" stroke="#000" stroke-width="1.2" fill="none"/><rect x="537.75" y="58.28" width="5.9" height="5.9" fill="#fff" stroke="#000" stroke-width="1.2"/><path d="M556.6 42.93V59.57M553.3 42.93h6.6M553.3 59.57h6.6" stroke="#000" stroke-width="1.2" fill="none"/><rect x="553.65" y="48.3" width="5.9" height="5.9" fill="#fff" stroke="#000" stroke-width="1.2"/><path d="M577.8 44.59V57.9M574.5 44.59h6.6M574.5 57.9h6.6" stroke="#000" stroke-width="1.2" fill="none"/><rect x="574.85" y="48.3" width="5.9" height="5.9" fill="#fff" stroke="#000" stroke-width="1.2"/><path d="M593.7 42.1V65.39M590.4 42.1h6.6M590.4 65.39h6.6" stroke="#000" stroke-width="1.2" fill="none"/><rect x="590.75" y="50.79" width="5.9" height="5.9" fill="#fff" stroke="#000" stroke-width="1.2"/><path d="M609.6 44.59V62.9M606.3 44.59h6.6M606.3 62.9h6.6" stroke="#000" stroke-width="1.2" fill="none"/><rect x="606.65" y="50.79" width="5.9" height="5.9" fill="#fff" stroke="#000" stroke-width="1.2"/><path d="M636.1 42.1V60.4M632.8 42.1h6.6M632.8 60.4h6.6" stroke="#000" stroke-width="1.2" fill="none"/><rect x="633.15" y="48.3" width="5.9" height="5.9" fill="#fff" stroke="#000" stroke-width="1.2"/><path d="M662.6 38.77V63.73M659.3 38.77h6.6M659.3 63.73h6.6" stroke="#000" stroke-width="1.2" fill="none"/><rect x="659.65" y="48.3" width="5.9" height="5.9" fill="#fff" stroke="#000" stroke-width="1.2"/>
<path d="M397.6 201.28L401.08 208.17L394.12 208.17Z" fill="#fff" stroke="#000" stroke-width="1.2" stroke-linejoin="miter"/><path d="M434.7 201.78L438.18 208.67L431.22 208.67Z" fill="#fff" stroke="#000" stroke-width="1.2" stroke-linejoin="miter"/><path d="M471.8 191.02V201.01M468.5 191.02h6.6M468.5 201.01h6.6" stroke="#000" stroke-width="1.2" fill="none"/><path d="M471.8 192.96L475.28 199.85L468.32 199.85Z" fill="#fff" stroke="#000" stroke-width="1.2" stroke-linejoin="miter"/><path d="M487.7 157.74V181.04M484.4 157.74h6.6M484.4 181.04h6.6" stroke="#000" stroke-width="1.2" fill="none"/><path d="M487.7 166.34L491.18 173.23L484.22 173.23Z" fill="#fff" stroke="#000" stroke-width="1.2" stroke-linejoin="miter"/><path d="M503.6 94.51V124.46M500.3 94.51h6.6M500.3 124.46h6.6" stroke="#000" stroke-width="1.2" fill="none"/><path d="M503.6 106.44L507.08 113.32L500.12 113.32Z" fill="#fff" stroke="#000" stroke-width="1.2" stroke-linejoin="miter"/><path d="M519.5 74.54V101.17M516.2 74.54h6.6M516.2 101.17h6.6" stroke="#000" stroke-width="1.2" fill="none"/><path d="M519.5 84.8L522.98 91.69L516.02 91.69Z" fill="#fff" stroke="#000" stroke-width="1.2" stroke-linejoin="miter"/><path d="M540.7 51.25V77.87M537.4 51.25h6.6M537.4 77.87h6.6" stroke="#000" stroke-width="1.2" fill="none"/><path d="M540.7 61.51L544.18 68.39L537.22 68.39Z" fill="#fff" stroke="#000" stroke-width="1.2" stroke-linejoin="miter"/><path d="M556.6 47.92V64.56M553.3 47.92h6.6M553.3 64.56h6.6" stroke="#000" stroke-width="1.2" fill="none"/><path d="M556.6 53.19L560.08 60.07L553.12 60.07Z" fill="#fff" stroke="#000" stroke-width="1.2" stroke-linejoin="miter"/><path d="M577.8 54.58V71.22M574.5 54.58h6.6M574.5 71.22h6.6" stroke="#000" stroke-width="1.2" fill="none"/><path d="M577.8 59.84L581.28 66.73L574.32 66.73Z" fill="#fff" stroke="#000" stroke-width="1.2" stroke-linejoin="miter"/><path d="M593.7 59.57V79.54M590.4 59.57h6.6M590.4 79.54h6.6" stroke="#000" stroke-width="1.2" fill="none"/><path d="M593.7 66.5L597.18 73.39L590.22 73.39Z" fill="#fff" stroke="#000" stroke-width="1.2" stroke-linejoin="miter"/><path d="M609.6 84.53V104.5M606.3 84.53h6.6M606.3 104.5h6.6" stroke="#000" stroke-width="1.2" fill="none"/><path d="M609.6 91.46L613.08 98.35L606.12 98.35Z" fill="#fff" stroke="#000" stroke-width="1.2" stroke-linejoin="miter"/><path d="M636.1 88.69V110.32M632.8 88.69h6.6M632.8 110.32h6.6" stroke="#000" stroke-width="1.2" fill="none"/><path d="M636.1 96.45L639.58 103.34L632.62 103.34Z" fill="#fff" stroke="#000" stroke-width="1.2" stroke-linejoin="miter"/><path d="M662.6 87.86V106.16M659.3 87.86h6.6M659.3 106.16h6.6" stroke="#000" stroke-width="1.2" fill="none"/><path d="M662.6 93.95L666.08 100.84L659.12 100.84Z" fill="#fff" stroke="#000" stroke-width="1.2" stroke-linejoin="miter"/>
<path d="M397.6 201.28L401.08 208.17L394.12 208.17Z" fill="#000" stroke="#000" stroke-width="1.2" stroke-linejoin="miter"/><path d="M434.7 201.78L438.18 208.67L431.22 208.67Z" fill="#000" stroke="#000" stroke-width="1.2" stroke-linejoin="miter"/><path d="M471.8 197.68V204.34M468.5 197.68h6.6M468.5 204.34h6.6" stroke="#000" stroke-width="1.2" fill="none"/><path d="M471.8 197.96L475.28 204.84L468.32 204.84Z" fill="#000" stroke="#000" stroke-width="1.2" stroke-linejoin="miter"/><path d="M487.7 166.9V186.86M484.4 166.9h6.6M484.4 186.86h6.6" stroke="#000" stroke-width="1.2" fill="none"/><path d="M487.7 173.83L491.18 180.71L484.22 180.71Z" fill="#000" stroke="#000" stroke-width="1.2" stroke-linejoin="miter"/><path d="M503.6 122.8V149.42M500.3 122.8h6.6M500.3 149.42h6.6" stroke="#000" stroke-width="1.2" fill="none"/><path d="M503.6 133.06L507.08 139.95L500.12 139.95Z" fill="#000" stroke="#000" stroke-width="1.2" stroke-linejoin="miter"/><path d="M519.5 89.52V116.14M516.2 89.52h6.6M516.2 116.14h6.6" stroke="#000" stroke-width="1.2" fill="none"/><path d="M519.5 99.78L522.98 106.67L516.02 106.67Z" fill="#000" stroke="#000" stroke-width="1.2" stroke-linejoin="miter"/><path d="M540.7 71.22V97.84M537.4 71.22h6.6M537.4 97.84h6.6" stroke="#000" stroke-width="1.2" fill="none"/><path d="M540.7 81.48L544.18 88.36L537.22 88.36Z" fill="#000" stroke="#000" stroke-width="1.2" stroke-linejoin="miter"/><path d="M556.6 51.25V77.87M553.3 51.25h6.6M553.3 77.87h6.6" stroke="#000" stroke-width="1.2" fill="none"/><path d="M556.6 61.51L560.08 68.39L553.12 68.39Z" fill="#000" stroke="#000" stroke-width="1.2" stroke-linejoin="miter"/><path d="M577.8 59.57V89.52M574.5 59.57h6.6M574.5 89.52h6.6" stroke="#000" stroke-width="1.2" fill="none"/><path d="M577.8 71.49L581.28 78.38L574.32 78.38Z" fill="#000" stroke="#000" stroke-width="1.2" stroke-linejoin="miter"/><path d="M593.7 66.22V92.85M590.4 66.22h6.6M590.4 92.85h6.6" stroke="#000" stroke-width="1.2" fill="none"/><path d="M593.7 76.48L597.18 83.37L590.22 83.37Z" fill="#000" stroke="#000" stroke-width="1.2" stroke-linejoin="miter"/><path d="M609.6 81.2V107.82M606.3 81.2h6.6M606.3 107.82h6.6" stroke="#000" stroke-width="1.2" fill="none"/><path d="M609.6 91.46L613.08 98.35L606.12 98.35Z" fill="#000" stroke="#000" stroke-width="1.2" stroke-linejoin="miter"/><path d="M636.1 118.64V146.93M632.8 118.64h6.6M632.8 146.93h6.6" stroke="#000" stroke-width="1.2" fill="none"/><path d="M636.1 129.73L639.58 136.62L632.62 136.62Z" fill="#000" stroke="#000" stroke-width="1.2" stroke-linejoin="miter"/><path d="M662.6 125.3V143.6M659.3 125.3h6.6M659.3 143.6h6.6" stroke="#000" stroke-width="1.2" fill="none"/><path d="M662.6 131.4L666.08 138.28L659.12 138.28Z" fill="#000" stroke="#000" stroke-width="1.2" stroke-linejoin="miter"/>
<rect x="394.65" y="201.39" width="5.9" height="5.9" fill="#000" stroke="#000" stroke-width="1.2"/><rect x="431.75" y="201.89" width="5.9" height="5.9" fill="#000" stroke="#000" stroke-width="1.2"/><path d="M471.8 197.68V204.34M468.5 197.68h6.6M468.5 204.34h6.6" stroke="#000" stroke-width="1.2" fill="none"/><rect x="468.85" y="198.06" width="5.9" height="5.9" fill="#000" stroke="#000" stroke-width="1.2"/><path d="M487.7 176.88V196.85M484.4 176.88h6.6M484.4 196.85h6.6" stroke="#000" stroke-width="1.2" fill="none"/><rect x="484.75" y="183.91" width="5.9" height="5.9" fill="#000" stroke="#000" stroke-width="1.2"/><path d="M503.6 87.86V114.48M500.3 87.86h6.6M500.3 114.48h6.6" stroke="#000" stroke-width="1.2" fill="none"/><rect x="500.65" y="98.22" width="5.9" height="5.9" fill="#000" stroke="#000" stroke-width="1.2"/><path d="M519.5 94.51V121.14M516.2 94.51h6.6M516.2 121.14h6.6" stroke="#000" stroke-width="1.2" fill="none"/><rect x="516.55" y="104.87" width="5.9" height="5.9" fill="#000" stroke="#000" stroke-width="1.2"/><path d="M540.7 72.88V99.5M537.4 72.88h6.6M537.4 99.5h6.6" stroke="#000" stroke-width="1.2" fill="none"/><rect x="537.75" y="83.24" width="5.9" height="5.9" fill="#000" stroke="#000" stroke-width="1.2"/><path d="M556.6 52.91V79.54M553.3 52.91h6.6M553.3 79.54h6.6" stroke="#000" stroke-width="1.2" fill="none"/><rect x="553.65" y="63.27" width="5.9" height="5.9" fill="#000" stroke="#000" stroke-width="1.2"/><path d="M577.8 52.91V79.54M574.5 52.91h6.6M574.5 79.54h6.6" stroke="#000" stroke-width="1.2" fill="none"/><rect x="574.85" y="63.27" width="5.9" height="5.9" fill="#000" stroke="#000" stroke-width="1.2"/><path d="M593.7 94.51V117.81M590.4 94.51h6.6M590.4 117.81h6.6" stroke="#000" stroke-width="1.2" fill="none"/><rect x="590.75" y="103.21" width="5.9" height="5.9" fill="#000" stroke="#000" stroke-width="1.2"/><path d="M609.6 115.31V130.29M606.3 115.31h6.6M606.3 130.29h6.6" stroke="#000" stroke-width="1.2" fill="none"/><rect x="606.65" y="119.85" width="5.9" height="5.9" fill="#000" stroke="#000" stroke-width="1.2"/><path d="M636.1 135.28V161.9M632.8 135.28h6.6M632.8 161.9h6.6" stroke="#000" stroke-width="1.2" fill="none"/><rect x="633.15" y="145.64" width="5.9" height="5.9" fill="#000" stroke="#000" stroke-width="1.2"/><path d="M662.6 132.78V159.41M659.3 132.78h6.6M659.3 159.41h6.6" stroke="#000" stroke-width="1.2" fill="none"/><rect x="659.65" y="143.15" width="5.9" height="5.9" fill="#000" stroke="#000" stroke-width="1.2"/>
<circle cx="397.6" cy="206" r="2.95" fill="#fff" stroke="#000" stroke-width="1.2"/><circle cx="434.7" cy="204.84" r="2.95" fill="#fff" stroke="#000" stroke-width="1.2"/><path d="M471.8 197.68V204.34M468.5 197.68h6.6M468.5 204.34h6.6" stroke="#000" stroke-width="1.2" fill="none"/><circle cx="471.8" cy="201.01" r="2.95" fill="#fff" stroke="#000" stroke-width="1.2"/><path d="M487.7 191.02V201.01M484.4 191.02h6.6M484.4 201.01h6.6" stroke="#000" stroke-width="1.2" fill="none"/><circle cx="487.7" cy="196.02" r="2.95" fill="#fff" stroke="#000" stroke-width="1.2"/><path d="M503.6 139.44V162.74M500.3 139.44h6.6M500.3 162.74h6.6" stroke="#000" stroke-width="1.2" fill="none"/><circle cx="503.6" cy="151.09" r="2.95" fill="#fff" stroke="#000" stroke-width="1.2"/><path d="M519.5 104.5V127.79M516.2 104.5h6.6M516.2 127.79h6.6" stroke="#000" stroke-width="1.2" fill="none"/><circle cx="519.5" cy="116.14" r="2.95" fill="#fff" stroke="#000" stroke-width="1.2"/><path d="M540.7 81.2V111.15M537.4 81.2h6.6M537.4 111.15h6.6" stroke="#000" stroke-width="1.2" fill="none"/><circle cx="540.7" cy="96.18" r="2.95" fill="#fff" stroke="#000" stroke-width="1.2"/><path d="M556.6 82.03V106.99M553.3 82.03h6.6M553.3 106.99h6.6" stroke="#000" stroke-width="1.2" fill="none"/><circle cx="556.6" cy="94.51" r="2.95" fill="#fff" stroke="#000" stroke-width="1.2"/><path d="M577.8 87.02V115.31M574.5 87.02h6.6M574.5 115.31h6.6" stroke="#000" stroke-width="1.2" fill="none"/><circle cx="577.8" cy="101.17" r="2.95" fill="#fff" stroke="#000" stroke-width="1.2"/><path d="M593.7 113.65V131.95M590.4 113.65h6.6M590.4 131.95h6.6" stroke="#000" stroke-width="1.2" fill="none"/><circle cx="593.7" cy="122.8" r="2.95" fill="#fff" stroke="#000" stroke-width="1.2"/><path d="M609.6 143.6V161.9M606.3 143.6h6.6M606.3 161.9h6.6" stroke="#000" stroke-width="1.2" fill="none"/><circle cx="609.6" cy="152.75" r="2.95" fill="#fff" stroke="#000" stroke-width="1.2"/><path d="M636.1 153.58V185.2M632.8 153.58h6.6M632.8 185.2h6.6" stroke="#000" stroke-width="1.2" fill="none"/><circle cx="636.1" cy="169.39" r="2.95" fill="#fff" stroke="#000" stroke-width="1.2"/><path d="M662.6 158.58V180.21M659.3 158.58h6.6M659.3 180.21h6.6" stroke="#000" stroke-width="1.2" fill="none"/><circle cx="662.6" cy="169.39" r="2.95" fill="#fff" stroke="#000" stroke-width="1.2"/>
<path d="M493.9 82.6V108.3" stroke="#000" stroke-width="1.8"/>
<path d="M493.9 113.3L497 105.8L490.8 105.8Z" fill="#000"/>
<g stroke="#000" stroke-width="1.9" fill="none" stroke-linecap="square">
<path d="M48 308.3V483.9H305.5"/>
<path d="M48 483.9h2.6"/>
<path d="M48 448.8h2.6"/>
<path d="M48 413.7h2.6"/>
<path d="M48 378.6h2.6"/>
<path d="M48 343.5h2.6"/>
<path d="M48 308.4h2.6"/>
<path d="M48 483.9v-2.7"/>
<path d="M73.75 483.9v-2.7"/>
<path d="M99.5 483.9v-2.7"/>
<path d="M125.25 483.9v-2.7"/>
<path d="M151 483.9v-2.7"/>
<path d="M176.75 483.9v-2.7"/>
<path d="M202.5 483.9v-2.7"/>
<path d="M228.25 483.9v-2.7"/>
<path d="M254 483.9v-2.7"/>
<path d="M279.75 483.9v-2.7"/>
<path d="M305.5 483.9v-2.7"/>
</g>
<g stroke="#000" stroke-width="1.5" fill="none">
<path d="M60.88 483.9v-2.2"/>
<path d="M86.62 483.9v-2.2"/>
<path d="M112.38 483.9v-2.2"/>
<path d="M138.12 483.9v-2.2"/>
<path d="M163.88 483.9v-2.2"/>
<path d="M189.62 483.9v-2.2"/>
<path d="M215.38 483.9v-2.2"/>
<path d="M241.12 483.9v-2.2"/>
<path d="M266.88 483.9v-2.2"/>
<path d="M292.62 483.9v-2.2"/>
</g>
<g font-family='"Liberation Sans", sans-serif' fill="#000">
<text x="45.8" y="487.1" font-size="10.4" font-weight="bold" text-anchor="end">2.5</text>
<text x="45.8" y="452" font-size="10.4" font-weight="bold" text-anchor="end">3.0</text>
<text x="45.8" y="416.9" font-size="10.4" font-weight="bold" text-anchor="end">3.5</text>
<text x="45.8" y="381.8" font-size="10.4" font-weight="bold" text-anchor="end">4.0</text>
<text x="45.8" y="346.7" font-size="10.4" font-weight="bold" text-anchor="end">4.5</text>
<text x="45.8" y="311.6" font-size="10.4" font-weight="bold" text-anchor="end">5.0</text>
<text x="48" y="494.8" font-size="11" font-weight="bold" text-anchor="middle">0</text>
<text x="73.75" y="494.8" font-size="11" font-weight="bold" text-anchor="middle">5</text>
<text x="99.5" y="494.8" font-size="11" font-weight="bold" text-anchor="middle">10</text>
<text x="125.25" y="494.8" font-size="11" font-weight="bold" text-anchor="middle">15</text>
<text x="151" y="494.8" font-size="11" font-weight="bold" text-anchor="middle">20</text>
<text x="176.75" y="494.8" font-size="11" font-weight="bold" text-anchor="middle">25</text>
<text x="202.5" y="494.8" font-size="11" font-weight="bold" text-anchor="middle">30</text>
<text x="228.25" y="494.8" font-size="11" font-weight="bold" text-anchor="middle">35</text>
<text x="254" y="494.8" font-size="11" font-weight="bold" text-anchor="middle">40</text>
<text x="279.75" y="494.8" font-size="11" font-weight="bold" text-anchor="middle">45</text>
<text x="305.5" y="494.8" font-size="11" font-weight="bold" text-anchor="middle">50</text>
<text x="1.2" y="297.5" font-size="19.4" font-weight="bold" text-anchor="start">C</text>
<text transform="translate(15.9 394.7) rotate(-90)" x="0" y="0" font-size="14" font-weight="bold" text-anchor="middle" textLength="131.5" lengthAdjust="spacingAndGlyphs">Paw Thickness (mm)</text>
<text x="144.3" y="520.2" font-size="14" font-weight="bold" textLength="66.7" lengthAdjust="spacingAndGlyphs">Time (day)</text>
</g>
<g font-family='"Liberation Sans", sans-serif' fill="#000">
<path d="M64.65 295.6h12.3" stroke="#000" stroke-width="1.3"/>
<circle cx="70.8" cy="295.6" r="3" fill="#000" stroke="#000" stroke-width="1.2"/>
<text x="83.8" y="299" font-size="9.8" font-weight="bold" textLength="20.8" lengthAdjust="spacingAndGlyphs">NOR</text>
<path d="M64.65 309.62h12.3" stroke="#000" stroke-width="1.3"/>
<rect x="67.8" y="306.62" width="6" height="6" fill="#fff" stroke="#000" stroke-width="1.2"/>
<text x="83.8" y="313.02" font-size="9.8" font-weight="bold" textLength="15.4" lengthAdjust="spacingAndGlyphs">CIA</text>
<path d="M64.65 323.64h12.3" stroke="#000" stroke-width="1.3"/>
<path d="M70.8 320.54L74.33 327.53L67.27 327.53Z" fill="#fff" stroke="#000" stroke-width="1.2" stroke-linejoin="miter"/>
<text x="83.8" y="327.04" font-size="9.8" font-weight="bold" textLength="41.7" lengthAdjust="spacingAndGlyphs">PLA2_0.1</text>
<path d="M64.65 337.66h12.3" stroke="#000" stroke-width="1.3"/>
<path d="M70.8 334.56L74.33 341.55L67.27 341.55Z" fill="#000" stroke="#000" stroke-width="1.2" stroke-linejoin="miter"/>
<text x="83.8" y="341.06" font-size="9.8" font-weight="bold" textLength="41.7" lengthAdjust="spacingAndGlyphs">PLA2_0.5</text>
<path d="M64.65 351.68h12.3" stroke="#000" stroke-width="1.3"/>
<rect x="67.8" y="348.68" width="6" height="6" fill="#000" stroke="#000" stroke-width="1.2"/>
<text x="83.8" y="355.08" font-size="9.8" font-weight="bold" textLength="32.5" lengthAdjust="spacingAndGlyphs">PLA2_1</text>
<path d="M64.65 365.7h12.3" stroke="#000" stroke-width="1.3"/>
<circle cx="70.8" cy="365.7" r="3" fill="#fff" stroke="#000" stroke-width="1.2"/>
<text x="83.8" y="369.1" font-size="9.8" font-weight="bold" textLength="21" lengthAdjust="spacingAndGlyphs">MTX</text>
</g>
<polyline points="48,459.33 84.05,458.63 120.1,458.63 135.55,457.93 151,460.03 166.45,465.65 187.05,457.93 202.5,461.44 223.1,462.14 238.55,460.03 254,457.93 279.75,461.44 305.5,457.93" fill="none" stroke="#000" stroke-width="1.2"/>
<polyline points="48,458.63 84.05,460.03 120.1,455.12 135.55,408.08 151,375.09 166.45,365.96 187.05,361.05 202.5,349.12 223.1,351.92 238.55,351.92 254,351.22 279.75,354.03 305.5,361.05" fill="none" stroke="#000" stroke-width="1.2"/>
<polyline points="48,469.16 84.05,464.24 120.1,458.63 135.55,417.21 151,387.02 166.45,377.9 187.05,382.11 202.5,374.39 223.1,375.09 238.55,380.71 254,382.81 279.75,382.11 305.5,391.24" fill="none" stroke="#000" stroke-width="1.2"/>
<polyline points="48,459.33 84.05,458.63 120.1,462.84 135.55,434.76 151,396.85 166.45,387.73 187.05,387.73 202.5,388.43 223.1,400.36 238.55,401.77 254,401.06 279.75,408.08 305.5,412.3" fill="none" stroke="#000" stroke-width="1.2"/>
<polyline points="48,459.33 84.05,458.63 120.1,462.84 135.55,436.87 151,405.28 166.45,399.66 187.05,396.85 202.5,400.36 223.1,408.08 238.55,410.19 254,415.81 279.75,424.23 305.5,424.93" fill="none" stroke="#000" stroke-width="1.2"/>
<polyline points="48,459.33 84.05,457.93 120.1,460.03 135.55,426.34 151,424.23 166.45,415.81 187.05,422.83 202.5,422.83 223.1,424.23 238.55,425.63 254,434.76 279.75,440.38 305.5,443.18" fill="none" stroke="#000" stroke-width="1.2"/>
<circle cx="48" cy="459.33" r="2.95" fill="#000" stroke="#000" stroke-width="1.2"/><circle cx="84.05" cy="458.63" r="2.95" fill="#000" stroke="#000" stroke-width="1.2"/><circle cx="120.1" cy="458.63" r="2.95" fill="#000" stroke="#000" stroke-width="1.2"/><circle cx="135.55" cy="457.93" r="2.95" fill="#000" stroke="#000" stroke-width="1.2"/><path d="M151 455.47V464.59M147.7 455.47h6.6M147.7 464.59h6.6" stroke="#000" stroke-width="1.2" fill="none"/><circle cx="151" cy="460.03" r="2.95" fill="#000" stroke="#000" stroke-width="1.2"/><path d="M166.45 461.44V469.86M163.15 461.44h6.6M163.15 469.86h6.6" stroke="#000" stroke-width="1.2" fill="none"/><circle cx="166.45" cy="465.65" r="2.95" fill="#000" stroke="#000" stroke-width="1.2"/><circle cx="187.05" cy="457.93" r="2.95" fill="#000" stroke="#000" stroke-width="1.2"/><path d="M202.5 457.22V465.65M199.2 457.22h6.6M199.2 465.65h6.6" stroke="#000" stroke-width="1.2" fill="none"/><circle cx="202.5" cy="461.44" r="2.95" fill="#000" stroke="#000" stroke-width="1.2"/><circle cx="223.1" cy="462.14" r="2.95" fill="#000" stroke="#000" stroke-width="1.2"/><path d="M238.55 455.47V464.59M235.25 455.47h6.6M235.25 464.59h6.6" stroke="#000" stroke-width="1.2" fill="none"/><circle cx="238.55" cy="460.03" r="2.95" fill="#000" stroke="#000" stroke-width="1.2"/><circle cx="254" cy="457.93" r="2.95" fill="#000" stroke="#000" stroke-width="1.2"/><path d="M279.75 456.87V466M276.45 456.87h6.6M276.45 466h6.6" stroke="#000" stroke-width="1.2" fill="none"/><circle cx="279.75" cy="461.44" r="2.95" fill="#000" stroke="#000" stroke-width="1.2"/><path d="M305.5 454.42V461.44M302.2 454.42h6.6M302.2 461.44h6.6" stroke="#000" stroke-width="1.2" fill="none"/><circle cx="305.5" cy="457.93" r="2.95" fill="#000" stroke="#000" stroke-width="1.2"/>
<rect x="45.05" y="455.68" width="5.9" height="5.9" fill="#fff" stroke="#000" stroke-width="1.2"/><path d="M84.05 453.01V467.05M80.75 453.01h6.6M80.75 467.05h6.6" stroke="#000" stroke-width="1.2" fill="none"/><rect x="81.1" y="457.08" width="5.9" height="5.9" fill="#fff" stroke="#000" stroke-width="1.2"/><rect x="117.15" y="452.17" width="5.9" height="5.9" fill="#fff" stroke="#000" stroke-width="1.2"/><path d="M135.55 395.45V420.72M132.25 395.45h6.6M132.25 420.72h6.6" stroke="#000" stroke-width="1.2" fill="none"/><rect x="132.6" y="405.13" width="5.9" height="5.9" fill="#fff" stroke="#000" stroke-width="1.2"/><path d="M151 363.86V386.32M147.7 363.86h6.6M147.7 386.32h6.6" stroke="#000" stroke-width="1.2" fill="none"/><rect x="148.05" y="372.14" width="5.9" height="5.9" fill="#fff" stroke="#000" stroke-width="1.2"/><path d="M166.45 352.63V379.3M163.15 352.63h6.6M163.15 379.3h6.6" stroke="#000" stroke-width="1.2" fill="none"/><rect x="163.5" y="363.01" width="5.9" height="5.9" fill="#fff" stroke="#000" stroke-width="1.2"/><path d="M187.05 350.52V371.58M183.75 350.52h6.6M183.75 371.58h6.6" stroke="#000" stroke-width="1.2" fill="none"/><rect x="184.1" y="358.1" width="5.9" height="5.9" fill="#fff" stroke="#000" stroke-width="1.2"/><path d="M202.5 339.29V358.94M199.2 339.29h6.6M199.2 358.94h6.6" stroke="#000" stroke-width="1.2" fill="none"/><rect x="199.55" y="346.17" width="5.9" height="5.9" fill="#fff" stroke="#000" stroke-width="1.2"/><path d="M223.1 338.59V365.26M219.8 338.59h6.6M219.8 365.26h6.6" stroke="#000" stroke-width="1.2" fill="none"/><rect x="220.15" y="348.97" width="5.9" height="5.9" fill="#fff" stroke="#000" stroke-width="1.2"/><path d="M238.55 338.59V365.26M235.25 338.59h6.6M235.25 365.26h6.6" stroke="#000" stroke-width="1.2" fill="none"/><rect x="235.6" y="348.97" width="5.9" height="5.9" fill="#fff" stroke="#000" stroke-width="1.2"/><path d="M254 337.18V365.26M250.7 337.18h6.6M250.7 365.26h6.6" stroke="#000" stroke-width="1.2" fill="none"/><rect x="251.05" y="348.27" width="5.9" height="5.9" fill="#fff" stroke="#000" stroke-width="1.2"/><path d="M279.75 343.5V364.56M276.45 343.5h6.6M276.45 364.56h6.6" stroke="#000" stroke-width="1.2" fill="none"/><rect x="276.8" y="351.08" width="5.9" height="5.9" fill="#fff" stroke="#000" stroke-width="1.2"/><path d="M305.5 350.52V371.58M302.2 350.52h6.6M302.2 371.58h6.6" stroke="#000" stroke-width="1.2" fill="none"/><rect x="302.55" y="358.1" width="5.9" height="5.9" fill="#fff" stroke="#000" stroke-width="1.2"/>
<path d="M48 466.1L51.48 472.99L44.52 472.99Z" fill="#fff" stroke="#000" stroke-width="1.2" stroke-linejoin="miter"/><path d="M84.05 458.63V469.86M80.75 458.63h6.6M80.75 469.86h6.6" stroke="#000" stroke-width="1.2" fill="none"/><path d="M84.05 461.19L87.53 468.08L80.57 468.08Z" fill="#fff" stroke="#000" stroke-width="1.2" stroke-linejoin="miter"/><path d="M120.1 455.57L123.58 462.46L116.62 462.46Z" fill="#fff" stroke="#000" stroke-width="1.2" stroke-linejoin="miter"/><path d="M135.55 406.68V427.74M132.25 406.68h6.6M132.25 427.74h6.6" stroke="#000" stroke-width="1.2" fill="none"/><path d="M135.55 414.16L139.03 421.04L132.07 421.04Z" fill="#fff" stroke="#000" stroke-width="1.2" stroke-linejoin="miter"/><path d="M151 376.49V397.55M147.7 376.49h6.6M147.7 397.55h6.6" stroke="#000" stroke-width="1.2" fill="none"/><path d="M151 383.97L154.48 390.86L147.52 390.86Z" fill="#fff" stroke="#000" stroke-width="1.2" stroke-linejoin="miter"/><path d="M166.45 367.37V388.43M163.15 367.37h6.6M163.15 388.43h6.6" stroke="#000" stroke-width="1.2" fill="none"/><path d="M166.45 374.84L169.93 381.73L162.97 381.73Z" fill="#fff" stroke="#000" stroke-width="1.2" stroke-linejoin="miter"/><path d="M187.05 370.18V394.04M183.75 370.18h6.6M183.75 394.04h6.6" stroke="#000" stroke-width="1.2" fill="none"/><path d="M187.05 379.06L190.53 385.94L183.57 385.94Z" fill="#fff" stroke="#000" stroke-width="1.2" stroke-linejoin="miter"/><path d="M202.5 362.45V386.32M199.2 362.45h6.6M199.2 386.32h6.6" stroke="#000" stroke-width="1.2" fill="none"/><path d="M202.5 371.34L205.98 378.22L199.02 378.22Z" fill="#fff" stroke="#000" stroke-width="1.2" stroke-linejoin="miter"/><path d="M223.1 361.75V388.43M219.8 361.75h6.6M219.8 388.43h6.6" stroke="#000" stroke-width="1.2" fill="none"/><path d="M223.1 372.04L226.58 378.92L219.62 378.92Z" fill="#fff" stroke="#000" stroke-width="1.2" stroke-linejoin="miter"/><path d="M238.55 368.77V392.64M235.25 368.77h6.6M235.25 392.64h6.6" stroke="#000" stroke-width="1.2" fill="none"/><path d="M238.55 377.65L242.03 384.54L235.07 384.54Z" fill="#fff" stroke="#000" stroke-width="1.2" stroke-linejoin="miter"/><path d="M254 372.28V393.34M250.7 372.28h6.6M250.7 393.34h6.6" stroke="#000" stroke-width="1.2" fill="none"/><path d="M254 379.76L257.48 386.65L250.52 386.65Z" fill="#fff" stroke="#000" stroke-width="1.2" stroke-linejoin="miter"/><path d="M279.75 370.18V394.04M276.45 370.18h6.6M276.45 394.04h6.6" stroke="#000" stroke-width="1.2" fill="none"/><path d="M279.75 379.06L283.23 385.94L276.27 385.94Z" fill="#fff" stroke="#000" stroke-width="1.2" stroke-linejoin="miter"/><path d="M305.5 379.3V403.17M302.2 379.3h6.6M302.2 403.17h6.6" stroke="#000" stroke-width="1.2" fill="none"/><path d="M305.5 388.18L308.98 395.07L302.02 395.07Z" fill="#fff" stroke="#000" stroke-width="1.2" stroke-linejoin="miter"/>
<path d="M48 456.28L51.48 463.16L44.52 463.16Z" fill="#000" stroke="#000" stroke-width="1.2" stroke-linejoin="miter"/><path d="M84.05 455.12V462.14M80.75 455.12h6.6M80.75 462.14h6.6" stroke="#000" stroke-width="1.2" fill="none"/><path d="M84.05 455.57L87.53 462.46L80.57 462.46Z" fill="#000" stroke="#000" stroke-width="1.2" stroke-linejoin="miter"/><path d="M120.1 459.79L123.58 466.67L116.62 466.67Z" fill="#000" stroke="#000" stroke-width="1.2" stroke-linejoin="miter"/><path d="M135.55 426.34V443.18M132.25 426.34h6.6M132.25 443.18h6.6" stroke="#000" stroke-width="1.2" fill="none"/><path d="M135.55 431.71L139.03 438.59L132.07 438.59Z" fill="#000" stroke="#000" stroke-width="1.2" stroke-linejoin="miter"/><path d="M151 388.43V405.28M147.7 388.43h6.6M147.7 405.28h6.6" stroke="#000" stroke-width="1.2" fill="none"/><path d="M151 393.8L154.48 400.69L147.52 400.69Z" fill="#000" stroke="#000" stroke-width="1.2" stroke-linejoin="miter"/><path d="M166.45 379.3V396.15M163.15 379.3h6.6M163.15 396.15h6.6" stroke="#000" stroke-width="1.2" fill="none"/><path d="M166.45 384.67L169.93 391.56L162.97 391.56Z" fill="#000" stroke="#000" stroke-width="1.2" stroke-linejoin="miter"/><path d="M187.05 379.3V396.15M183.75 379.3h6.6M183.75 396.15h6.6" stroke="#000" stroke-width="1.2" fill="none"/><path d="M187.05 384.67L190.53 391.56L183.57 391.56Z" fill="#000" stroke="#000" stroke-width="1.2" stroke-linejoin="miter"/><path d="M202.5 380V396.85M199.2 380h6.6M199.2 396.85h6.6" stroke="#000" stroke-width="1.2" fill="none"/><path d="M202.5 385.38L205.98 392.26L199.02 392.26Z" fill="#000" stroke="#000" stroke-width="1.2" stroke-linejoin="miter"/><path d="M223.1 391.94V408.79M219.8 391.94h6.6M219.8 408.79h6.6" stroke="#000" stroke-width="1.2" fill="none"/><path d="M223.1 397.31L226.58 404.2L219.62 404.2Z" fill="#000" stroke="#000" stroke-width="1.2" stroke-linejoin="miter"/><path d="M238.55 393.34V410.19M235.25 393.34h6.6M235.25 410.19h6.6" stroke="#000" stroke-width="1.2" fill="none"/><path d="M238.55 398.71L242.03 405.6L235.07 405.6Z" fill="#000" stroke="#000" stroke-width="1.2" stroke-linejoin="miter"/><path d="M254 392.64V409.49M250.7 392.64h6.6M250.7 409.49h6.6" stroke="#000" stroke-width="1.2" fill="none"/><path d="M254 398.01L257.48 404.9L250.52 404.9Z" fill="#000" stroke="#000" stroke-width="1.2" stroke-linejoin="miter"/><path d="M279.75 399.66V416.51M276.45 399.66h6.6M276.45 416.51h6.6" stroke="#000" stroke-width="1.2" fill="none"/><path d="M279.75 405.03L283.23 411.92L276.27 411.92Z" fill="#000" stroke="#000" stroke-width="1.2" stroke-linejoin="miter"/><path d="M305.5 403.87V420.72M302.2 403.87h6.6M302.2 420.72h6.6" stroke="#000" stroke-width="1.2" fill="none"/><path d="M305.5 409.24L308.98 416.13L302.02 416.13Z" fill="#000" stroke="#000" stroke-width="1.2" stroke-linejoin="miter"/>
<rect x="45.05" y="456.38" width="5.9" height="5.9" fill="#000" stroke="#000" stroke-width="1.2"/><path d="M84.05 455.12V462.14M80.75 455.12h6.6M80.75 462.14h6.6" stroke="#000" stroke-width="1.2" fill="none"/><rect x="81.1" y="455.68" width="5.9" height="5.9" fill="#000" stroke="#000" stroke-width="1.2"/><rect x="117.15" y="459.89" width="5.9" height="5.9" fill="#000" stroke="#000" stroke-width="1.2"/><path d="M135.55 429.85V443.89M132.25 429.85h6.6M132.25 443.89h6.6" stroke="#000" stroke-width="1.2" fill="none"/><rect x="132.6" y="433.92" width="5.9" height="5.9" fill="#000" stroke="#000" stroke-width="1.2"/><path d="M151 398.26V412.3M147.7 398.26h6.6M147.7 412.3h6.6" stroke="#000" stroke-width="1.2" fill="none"/><rect x="148.05" y="402.33" width="5.9" height="5.9" fill="#000" stroke="#000" stroke-width="1.2"/><path d="M166.45 392.64V406.68M163.15 392.64h6.6M163.15 406.68h6.6" stroke="#000" stroke-width="1.2" fill="none"/><rect x="163.5" y="396.71" width="5.9" height="5.9" fill="#000" stroke="#000" stroke-width="1.2"/><path d="M187.05 389.83V403.87M183.75 389.83h6.6M183.75 403.87h6.6" stroke="#000" stroke-width="1.2" fill="none"/><rect x="184.1" y="393.9" width="5.9" height="5.9" fill="#000" stroke="#000" stroke-width="1.2"/><path d="M202.5 393.34V407.38M199.2 393.34h6.6M199.2 407.38h6.6" stroke="#000" stroke-width="1.2" fill="none"/><rect x="199.55" y="397.41" width="5.9" height="5.9" fill="#000" stroke="#000" stroke-width="1.2"/><path d="M223.1 401.06V415.1M219.8 401.06h6.6M219.8 415.1h6.6" stroke="#000" stroke-width="1.2" fill="none"/><rect x="220.15" y="405.13" width="5.9" height="5.9" fill="#000" stroke="#000" stroke-width="1.2"/><path d="M238.55 403.17V417.21M235.25 403.17h6.6M235.25 417.21h6.6" stroke="#000" stroke-width="1.2" fill="none"/><rect x="235.6" y="407.24" width="5.9" height="5.9" fill="#000" stroke="#000" stroke-width="1.2"/><path d="M254 408.79V422.83M250.7 408.79h6.6M250.7 422.83h6.6" stroke="#000" stroke-width="1.2" fill="none"/><rect x="251.05" y="412.86" width="5.9" height="5.9" fill="#000" stroke="#000" stroke-width="1.2"/><path d="M279.75 417.21V431.25M276.45 417.21h6.6M276.45 431.25h6.6" stroke="#000" stroke-width="1.2" fill="none"/><rect x="276.8" y="421.28" width="5.9" height="5.9" fill="#000" stroke="#000" stroke-width="1.2"/><path d="M305.5 417.91V431.95M302.2 417.91h6.6M302.2 431.95h6.6" stroke="#000" stroke-width="1.2" fill="none"/><rect x="302.55" y="421.98" width="5.9" height="5.9" fill="#000" stroke="#000" stroke-width="1.2"/>
<circle cx="48" cy="459.33" r="2.95" fill="#fff" stroke="#000" stroke-width="1.2"/><circle cx="84.05" cy="457.93" r="2.95" fill="#fff" stroke="#000" stroke-width="1.2"/><circle cx="120.1" cy="460.03" r="2.95" fill="#fff" stroke="#000" stroke-width="1.2"/><path d="M135.55 420.72V431.95M132.25 420.72h6.6M132.25 431.95h6.6" stroke="#000" stroke-width="1.2" fill="none"/><circle cx="135.55" cy="426.34" r="2.95" fill="#fff" stroke="#000" stroke-width="1.2"/><path d="M151 417.21V431.25M147.7 417.21h6.6M147.7 431.25h6.6" stroke="#000" stroke-width="1.2" fill="none"/><circle cx="151" cy="424.23" r="2.95" fill="#fff" stroke="#000" stroke-width="1.2"/><path d="M166.45 410.19V421.42M163.15 410.19h6.6M163.15 421.42h6.6" stroke="#000" stroke-width="1.2" fill="none"/><circle cx="166.45" cy="415.81" r="2.95" fill="#fff" stroke="#000" stroke-width="1.2"/><path d="M187.05 413.7V431.95M183.75 413.7h6.6M183.75 431.95h6.6" stroke="#000" stroke-width="1.2" fill="none"/><circle cx="187.05" cy="422.83" r="2.95" fill="#fff" stroke="#000" stroke-width="1.2"/><path d="M202.5 414.4V431.25M199.2 414.4h6.6M199.2 431.25h6.6" stroke="#000" stroke-width="1.2" fill="none"/><circle cx="202.5" cy="422.83" r="2.95" fill="#fff" stroke="#000" stroke-width="1.2"/><path d="M223.1 417.21V431.25M219.8 417.21h6.6M219.8 431.25h6.6" stroke="#000" stroke-width="1.2" fill="none"/><circle cx="223.1" cy="424.23" r="2.95" fill="#fff" stroke="#000" stroke-width="1.2"/><path d="M238.55 418.61V432.65M235.25 418.61h6.6M235.25 432.65h6.6" stroke="#000" stroke-width="1.2" fill="none"/><circle cx="238.55" cy="425.63" r="2.95" fill="#fff" stroke="#000" stroke-width="1.2"/><path d="M254 429.14V440.38M250.7 429.14h6.6M250.7 440.38h6.6" stroke="#000" stroke-width="1.2" fill="none"/><circle cx="254" cy="434.76" r="2.95" fill="#fff" stroke="#000" stroke-width="1.2"/><path d="M279.75 431.95V448.8M276.45 431.95h6.6M276.45 448.8h6.6" stroke="#000" stroke-width="1.2" fill="none"/><circle cx="279.75" cy="440.38" r="2.95" fill="#fff" stroke="#000" stroke-width="1.2"/><path d="M305.5 434.76V451.61M302.2 434.76h6.6M302.2 451.61h6.6" stroke="#000" stroke-width="1.2" fill="none"/><circle cx="305.5" cy="443.18" r="2.95" fill="#fff" stroke="#000" stroke-width="1.2"/>
<path d="M143.7 468.4V481" stroke="#000" stroke-width="1.8"/>
<path d="M143.7 463.4L146.8 470.9L140.6 470.9Z" fill="#000"/>
<g stroke="#000" stroke-width="1.9" fill="none" stroke-linecap="square">
<path d="M395.6 292.9V478.5H668.1"/>
<path d="M395.6 478.5h2.6"/>
<path d="M395.6 432.15h2.6"/>
<path d="M395.6 385.8h2.6"/>
<path d="M395.6 339.45h2.6"/>
<path d="M395.6 293.1h2.6"/>
<path d="M395.6 478.5v-2.7"/>
<path d="M422.85 478.5v-2.7"/>
<path d="M450.1 478.5v-2.7"/>
<path d="M477.35 478.5v-2.7"/>
<path d="M504.6 478.5v-2.7"/>
<path d="M531.85 478.5v-2.7"/>
<path d="M559.1 478.5v-2.7"/>
<path d="M586.35 478.5v-2.7"/>
<path d="M613.6 478.5v-2.7"/>
<path d="M640.85 478.5v-2.7"/>
<path d="M668.1 478.5v-2.7"/>
</g>
<g stroke="#000" stroke-width="1.5" fill="none">
<path d="M409.23 478.5v-2.2"/>
<path d="M436.48 478.5v-2.2"/>
<path d="M463.73 478.5v-2.2"/>
<path d="M490.98 478.5v-2.2"/>
<path d="M518.23 478.5v-2.2"/>
<path d="M545.48 478.5v-2.2"/>
<path d="M572.73 478.5v-2.2"/>
<path d="M599.98 478.5v-2.2"/>
<path d="M627.23 478.5v-2.2"/>
<path d="M654.48 478.5v-2.2"/>
</g>
<g font-family='"Liberation Sans", sans-serif' fill="#000">
<text x="393.4" y="481.7" font-size="10.4" font-weight="bold" text-anchor="end">0</text>
<text x="393.4" y="435.35" font-size="10.4" font-weight="bold" text-anchor="end">5</text>
<text x="393.4" y="389" font-size="10.4" font-weight="bold" text-anchor="end">10</text>
<text x="393.4" y="342.65" font-size="10.4" font-weight="bold" text-anchor="end">15</text>
<text x="393.4" y="296.3" font-size="10.4" font-weight="bold" text-anchor="end">20</text>
<text x="395.6" y="489.4" font-size="11" font-weight="bold" text-anchor="middle">0</text>
<text x="422.85" y="489.4" font-size="11" font-weight="bold" text-anchor="middle">5</text>
<text x="450.1" y="489.4" font-size="11" font-weight="bold" text-anchor="middle">10</text>
<text x="477.35" y="489.4" font-size="11" font-weight="bold" text-anchor="middle">15</text>
<text x="504.6" y="489.4" font-size="11" font-weight="bold" text-anchor="middle">20</text>
<text x="531.85" y="489.4" font-size="11" font-weight="bold" text-anchor="middle">25</text>
<text x="559.1" y="489.4" font-size="11" font-weight="bold" text-anchor="middle">30</text>
<text x="586.35" y="489.4" font-size="11" font-weight="bold" text-anchor="middle">35</text>
<text x="613.6" y="489.4" font-size="11" font-weight="bold" text-anchor="middle">40</text>
<text x="640.85" y="489.4" font-size="11" font-weight="bold" text-anchor="middle">45</text>
<text x="668.1" y="489.4" font-size="11" font-weight="bold" text-anchor="middle">50</text>
<text x="352" y="297.3" font-size="19.4" font-weight="bold" text-anchor="start">D</text>
<text transform="translate(369.1 384.4) rotate(-90)" x="0" y="0" font-size="14" font-weight="bold" text-anchor="middle" textLength="147.5" lengthAdjust="spacingAndGlyphs">Arthritis Index (score)</text>
<text x="497.6" y="512.1" font-size="14" font-weight="bold" textLength="69.8" lengthAdjust="spacingAndGlyphs">Time (day)</text>
</g>
<g font-family='"Liberation Sans", sans-serif' fill="#000">
<path d="M418.45 292.3h12.3" stroke="#000" stroke-width="1.3"/>
<circle cx="424.6" cy="292.3" r="3" fill="#000" stroke="#000" stroke-width="1.2"/>
<text x="438.2" y="295.7" font-size="9.8" font-weight="bold" textLength="20.8" lengthAdjust="spacingAndGlyphs">NOR</text>
<path d="M418.45 306.9h12.3" stroke="#000" stroke-width="1.3"/>
<rect x="421.6" y="303.9" width="6" height="6" fill="#fff" stroke="#000" stroke-width="1.2"/>
<text x="438.2" y="310.3" font-size="9.8" font-weight="bold" textLength="15.4" lengthAdjust="spacingAndGlyphs">CIA</text>
<path d="M418.45 321.5h12.3" stroke="#000" stroke-width="1.3"/>
<path d="M424.6 318.4L428.13 325.39L421.07 325.39Z" fill="#fff" stroke="#000" stroke-width="1.2" stroke-linejoin="miter"/>
<text x="438.2" y="324.9" font-size="9.8" font-weight="bold" textLength="41.7" lengthAdjust="spacingAndGlyphs">PLA2_0.1</text>
<path d="M418.45 336.1h12.3" stroke="#000" stroke-width="1.3"/>
<path d="M424.6 333L428.13 339.99L421.07 339.99Z" fill="#000" stroke="#000" stroke-width="1.2" stroke-linejoin="miter"/>
<text x="438.2" y="339.5" font-size="9.8" font-weight="bold" textLength="41.7" lengthAdjust="spacingAndGlyphs">PLA2_0.5</text>
<path d="M418.45 350.7h12.3" stroke="#000" stroke-width="1.3"/>
<rect x="421.6" y="347.7" width="6" height="6" fill="#000" stroke="#000" stroke-width="1.2"/>
<text x="438.2" y="354.1" font-size="9.8" font-weight="bold" textLength="32.5" lengthAdjust="spacingAndGlyphs">PLA2_1</text>
<path d="M418.45 365.3h12.3" stroke="#000" stroke-width="1.3"/>
<circle cx="424.6" cy="365.3" r="3" fill="#fff" stroke="#000" stroke-width="1.2"/>
<text x="438.2" y="368.7" font-size="9.8" font-weight="bold" textLength="21" lengthAdjust="spacingAndGlyphs">MTX</text>
</g>
<polyline points="395.6,478.5 433.75,478.5 471.9,478.5 488.25,478.5 504.6,478.5 520.95,478.5 542.75,478.5 559.1,478.5 580.9,478.5 597.25,478.5 613.6,478.5 640.85,478.5 668.1,478.5" fill="none" stroke="#000" stroke-width="1.2"/>
<polyline points="395.6,478.5 433.75,478.5 471.9,475.72 488.25,453.47 504.6,421.03 520.95,396.92 542.75,370.97 559.1,359.84 580.9,347.33 597.25,349.65 613.6,344.55 640.85,344.55 668.1,348.26" fill="none" stroke="#000" stroke-width="1.2"/>
<polyline points="395.6,478.5 433.75,478.5 471.9,475.72 488.25,454.4 504.6,422.88 520.95,391.36 542.75,371.43 559.1,371.89 580.9,367.26 597.25,365.41 613.6,376.53 640.85,378.38 668.1,383.95" fill="none" stroke="#000" stroke-width="1.2"/>
<polyline points="395.6,478.5 433.75,478.5 471.9,475.72 488.25,452.54 504.6,417.32 520.95,405.27 542.75,382.09 559.1,386.73 580.9,377.46 597.25,381.17 613.6,386.73 640.85,389.04 668.1,394.14" fill="none" stroke="#000" stroke-width="1.2"/>
<polyline points="395.6,478.5 433.75,478.5 471.9,476.65 488.25,455.32 504.6,433.08 520.95,408.98 542.75,397.85 559.1,398.78 580.9,398.31 597.25,392.29 613.6,402.02 640.85,405.73 668.1,417.78" fill="none" stroke="#000" stroke-width="1.2"/>
<polyline points="395.6,478.5 433.75,478.5 471.9,476.65 488.25,458.11 504.6,440.49 520.95,432.61 542.75,427.05 559.1,423.34 580.9,427.98 597.25,426.12 613.6,431.22 640.85,431.22 668.1,442.81" fill="none" stroke="#000" stroke-width="1.2"/>
<circle cx="395.6" cy="478.5" r="2.95" fill="#000" stroke="#000" stroke-width="1.2"/><circle cx="433.75" cy="478.5" r="2.95" fill="#000" stroke="#000" stroke-width="1.2"/><circle cx="471.9" cy="478.5" r="2.95" fill="#000" stroke="#000" stroke-width="1.2"/><circle cx="488.25" cy="478.5" r="2.95" fill="#000" stroke="#000" stroke-width="1.2"/><circle cx="504.6" cy="478.5" r="2.95" fill="#000" stroke="#000" stroke-width="1.2"/><circle cx="520.95" cy="478.5" r="2.95" fill="#000" stroke="#000" stroke-width="1.2"/><circle cx="542.75" cy="478.5" r="2.95" fill="#000" stroke="#000" stroke-width="1.2"/><circle cx="559.1" cy="478.5" r="2.95" fill="#000" stroke="#000" stroke-width="1.2"/><circle cx="580.9" cy="478.5" r="2.95" fill="#000" stroke="#000" stroke-width="1.2"/><circle cx="597.25" cy="478.5" r="2.95" fill="#000" stroke="#000" stroke-width="1.2"/><circle cx="613.6" cy="478.5" r="2.95" fill="#000" stroke="#000" stroke-width="1.2"/><circle cx="640.85" cy="478.5" r="2.95" fill="#000" stroke="#000" stroke-width="1.2"/><circle cx="668.1" cy="478.5" r="2.95" fill="#000" stroke="#000" stroke-width="1.2"/>
<rect x="392.65" y="475.55" width="5.9" height="5.9" fill="#fff" stroke="#000" stroke-width="1.2"/><rect x="430.8" y="475.55" width="5.9" height="5.9" fill="#fff" stroke="#000" stroke-width="1.2"/><rect x="468.95" y="472.77" width="5.9" height="5.9" fill="#fff" stroke="#000" stroke-width="1.2"/><path d="M488.25 446.98V459.96M484.95 446.98h6.6M484.95 459.96h6.6" stroke="#000" stroke-width="1.2" fill="none"/><rect x="485.3" y="450.52" width="5.9" height="5.9" fill="#fff" stroke="#000" stroke-width="1.2"/><path d="M504.6 406.19V435.86M501.3 406.19h6.6M501.3 435.86h6.6" stroke="#000" stroke-width="1.2" fill="none"/><rect x="501.65" y="418.08" width="5.9" height="5.9" fill="#fff" stroke="#000" stroke-width="1.2"/><path d="M520.95 388.58V405.27M517.65 388.58h6.6M517.65 405.27h6.6" stroke="#000" stroke-width="1.2" fill="none"/><rect x="518" y="393.97" width="5.9" height="5.9" fill="#fff" stroke="#000" stroke-width="1.2"/><path d="M542.75 352.43V389.51M539.45 352.43h6.6M539.45 389.51h6.6" stroke="#000" stroke-width="1.2" fill="none"/><rect x="539.8" y="368.02" width="5.9" height="5.9" fill="#fff" stroke="#000" stroke-width="1.2"/><path d="M559.1 351.5V368.19M555.8 351.5h6.6M555.8 368.19h6.6" stroke="#000" stroke-width="1.2" fill="none"/><rect x="556.15" y="356.89" width="5.9" height="5.9" fill="#fff" stroke="#000" stroke-width="1.2"/><path d="M580.9 338.99V355.67M577.6 338.99h6.6M577.6 355.67h6.6" stroke="#000" stroke-width="1.2" fill="none"/><rect x="577.95" y="344.38" width="5.9" height="5.9" fill="#fff" stroke="#000" stroke-width="1.2"/><path d="M597.25 338.52V360.77M593.95 338.52h6.6M593.95 360.77h6.6" stroke="#000" stroke-width="1.2" fill="none"/><rect x="594.3" y="346.7" width="5.9" height="5.9" fill="#fff" stroke="#000" stroke-width="1.2"/><path d="M613.6 335.28V353.82M610.3 335.28h6.6M610.3 353.82h6.6" stroke="#000" stroke-width="1.2" fill="none"/><rect x="610.65" y="341.6" width="5.9" height="5.9" fill="#fff" stroke="#000" stroke-width="1.2"/><path d="M640.85 338.06V351.04M637.55 338.06h6.6M637.55 351.04h6.6" stroke="#000" stroke-width="1.2" fill="none"/><rect x="637.9" y="341.6" width="5.9" height="5.9" fill="#fff" stroke="#000" stroke-width="1.2"/><path d="M668.1 342.69V353.82M664.8 342.69h6.6M664.8 353.82h6.6" stroke="#000" stroke-width="1.2" fill="none"/><rect x="665.15" y="345.31" width="5.9" height="5.9" fill="#fff" stroke="#000" stroke-width="1.2"/>
<path d="M395.6 475.45L399.08 482.33L392.12 482.33Z" fill="#fff" stroke="#000" stroke-width="1.2" stroke-linejoin="miter"/><path d="M433.75 475.45L437.23 482.33L430.27 482.33Z" fill="#fff" stroke="#000" stroke-width="1.2" stroke-linejoin="miter"/><path d="M471.9 472.67L475.38 479.55L468.42 479.55Z" fill="#fff" stroke="#000" stroke-width="1.2" stroke-linejoin="miter"/><path d="M488.25 447.91V460.89M484.95 447.91h6.6M484.95 460.89h6.6" stroke="#000" stroke-width="1.2" fill="none"/><path d="M488.25 451.35L491.73 458.23L484.77 458.23Z" fill="#fff" stroke="#000" stroke-width="1.2" stroke-linejoin="miter"/><path d="M504.6 414.54V431.22M501.3 414.54h6.6M501.3 431.22h6.6" stroke="#000" stroke-width="1.2" fill="none"/><path d="M504.6 419.83L508.08 426.71L501.12 426.71Z" fill="#fff" stroke="#000" stroke-width="1.2" stroke-linejoin="miter"/><path d="M520.95 383.95V398.78M517.65 383.95h6.6M517.65 398.78h6.6" stroke="#000" stroke-width="1.2" fill="none"/><path d="M520.95 388.31L524.43 395.2L517.47 395.2Z" fill="#fff" stroke="#000" stroke-width="1.2" stroke-linejoin="miter"/><path d="M542.75 360.31V382.56M539.45 360.31h6.6M539.45 382.56h6.6" stroke="#000" stroke-width="1.2" fill="none"/><path d="M542.75 368.38L546.23 375.27L539.27 375.27Z" fill="#fff" stroke="#000" stroke-width="1.2" stroke-linejoin="miter"/><path d="M559.1 360.77V383.02M555.8 360.77h6.6M555.8 383.02h6.6" stroke="#000" stroke-width="1.2" fill="none"/><path d="M559.1 368.84L562.58 375.73L555.62 375.73Z" fill="#fff" stroke="#000" stroke-width="1.2" stroke-linejoin="miter"/><path d="M580.9 356.14V378.38M577.6 356.14h6.6M577.6 378.38h6.6" stroke="#000" stroke-width="1.2" fill="none"/><path d="M580.9 364.21L584.38 371.09L577.42 371.09Z" fill="#fff" stroke="#000" stroke-width="1.2" stroke-linejoin="miter"/><path d="M597.25 354.28V376.53M593.95 354.28h6.6M593.95 376.53h6.6" stroke="#000" stroke-width="1.2" fill="none"/><path d="M597.25 362.35L600.73 369.24L593.77 369.24Z" fill="#fff" stroke="#000" stroke-width="1.2" stroke-linejoin="miter"/><path d="M613.6 368.19V384.87M610.3 368.19h6.6M610.3 384.87h6.6" stroke="#000" stroke-width="1.2" fill="none"/><path d="M613.6 373.48L617.08 380.36L610.12 380.36Z" fill="#fff" stroke="#000" stroke-width="1.2" stroke-linejoin="miter"/><path d="M640.85 370.04V386.73M637.55 370.04h6.6M637.55 386.73h6.6" stroke="#000" stroke-width="1.2" fill="none"/><path d="M640.85 375.33L644.33 382.22L637.37 382.22Z" fill="#fff" stroke="#000" stroke-width="1.2" stroke-linejoin="miter"/><path d="M668.1 375.6V392.29M664.8 375.6h6.6M664.8 392.29h6.6" stroke="#000" stroke-width="1.2" fill="none"/><path d="M668.1 380.89L671.58 387.78L664.62 387.78Z" fill="#fff" stroke="#000" stroke-width="1.2" stroke-linejoin="miter"/>
<path d="M395.6 475.45L399.08 482.33L392.12 482.33Z" fill="#000" stroke="#000" stroke-width="1.2" stroke-linejoin="miter"/><path d="M433.75 475.45L437.23 482.33L430.27 482.33Z" fill="#000" stroke="#000" stroke-width="1.2" stroke-linejoin="miter"/><path d="M471.9 472.67L475.38 479.55L468.42 479.55Z" fill="#000" stroke="#000" stroke-width="1.2" stroke-linejoin="miter"/><path d="M488.25 446.06V459.03M484.95 446.06h6.6M484.95 459.03h6.6" stroke="#000" stroke-width="1.2" fill="none"/><path d="M488.25 449.49L491.73 456.38L484.77 456.38Z" fill="#000" stroke="#000" stroke-width="1.2" stroke-linejoin="miter"/><path d="M504.6 409.9V424.73M501.3 409.9h6.6M501.3 424.73h6.6" stroke="#000" stroke-width="1.2" fill="none"/><path d="M504.6 414.26L508.08 421.15L501.12 421.15Z" fill="#000" stroke="#000" stroke-width="1.2" stroke-linejoin="miter"/><path d="M520.95 396.92V413.61M517.65 396.92h6.6M517.65 413.61h6.6" stroke="#000" stroke-width="1.2" fill="none"/><path d="M520.95 402.21L524.43 409.1L517.47 409.1Z" fill="#000" stroke="#000" stroke-width="1.2" stroke-linejoin="miter"/><path d="M542.75 372.82V391.36M539.45 372.82h6.6M539.45 391.36h6.6" stroke="#000" stroke-width="1.2" fill="none"/><path d="M542.75 379.04L546.23 385.93L539.27 385.93Z" fill="#000" stroke="#000" stroke-width="1.2" stroke-linejoin="miter"/><path d="M559.1 372.82V400.63M555.8 372.82h6.6M555.8 400.63h6.6" stroke="#000" stroke-width="1.2" fill="none"/><path d="M559.1 383.67L562.58 390.56L555.62 390.56Z" fill="#000" stroke="#000" stroke-width="1.2" stroke-linejoin="miter"/><path d="M580.9 363.55V391.36M577.6 363.55h6.6M577.6 391.36h6.6" stroke="#000" stroke-width="1.2" fill="none"/><path d="M580.9 374.4L584.38 381.29L577.42 381.29Z" fill="#000" stroke="#000" stroke-width="1.2" stroke-linejoin="miter"/><path d="M597.25 370.04V392.29M593.95 370.04h6.6M593.95 392.29h6.6" stroke="#000" stroke-width="1.2" fill="none"/><path d="M597.25 378.11L600.73 385L593.77 385Z" fill="#000" stroke="#000" stroke-width="1.2" stroke-linejoin="miter"/><path d="M613.6 377.46V396M610.3 377.46h6.6M610.3 396h6.6" stroke="#000" stroke-width="1.2" fill="none"/><path d="M613.6 383.67L617.08 390.56L610.12 390.56Z" fill="#000" stroke="#000" stroke-width="1.2" stroke-linejoin="miter"/><path d="M640.85 380.7V397.39M637.55 380.7h6.6M637.55 397.39h6.6" stroke="#000" stroke-width="1.2" fill="none"/><path d="M640.85 385.99L644.33 392.88L637.37 392.88Z" fill="#000" stroke="#000" stroke-width="1.2" stroke-linejoin="miter"/><path d="M668.1 385.8V402.49M664.8 385.8h6.6M664.8 402.49h6.6" stroke="#000" stroke-width="1.2" fill="none"/><path d="M668.1 391.09L671.58 397.98L664.62 397.98Z" fill="#000" stroke="#000" stroke-width="1.2" stroke-linejoin="miter"/>
<rect x="392.65" y="475.55" width="5.9" height="5.9" fill="#000" stroke="#000" stroke-width="1.2"/><rect x="430.8" y="475.55" width="5.9" height="5.9" fill="#000" stroke="#000" stroke-width="1.2"/><rect x="468.95" y="473.7" width="5.9" height="5.9" fill="#000" stroke="#000" stroke-width="1.2"/><path d="M488.25 449.76V460.89M484.95 449.76h6.6M484.95 460.89h6.6" stroke="#000" stroke-width="1.2" fill="none"/><rect x="485.3" y="452.38" width="5.9" height="5.9" fill="#000" stroke="#000" stroke-width="1.2"/><path d="M504.6 425.66V440.49M501.3 425.66h6.6M501.3 440.49h6.6" stroke="#000" stroke-width="1.2" fill="none"/><rect x="501.65" y="430.13" width="5.9" height="5.9" fill="#000" stroke="#000" stroke-width="1.2"/><path d="M520.95 397.85V420.1M517.65 397.85h6.6M517.65 420.1h6.6" stroke="#000" stroke-width="1.2" fill="none"/><rect x="518" y="406.03" width="5.9" height="5.9" fill="#000" stroke="#000" stroke-width="1.2"/><path d="M542.75 383.95V411.76M539.45 383.95h6.6M539.45 411.76h6.6" stroke="#000" stroke-width="1.2" fill="none"/><rect x="539.8" y="394.9" width="5.9" height="5.9" fill="#000" stroke="#000" stroke-width="1.2"/><path d="M559.1 382.09V415.46M555.8 382.09h6.6M555.8 415.46h6.6" stroke="#000" stroke-width="1.2" fill="none"/><rect x="556.15" y="395.83" width="5.9" height="5.9" fill="#000" stroke="#000" stroke-width="1.2"/><path d="M580.9 383.48V413.15M577.6 383.48h6.6M577.6 413.15h6.6" stroke="#000" stroke-width="1.2" fill="none"/><rect x="577.95" y="395.36" width="5.9" height="5.9" fill="#000" stroke="#000" stroke-width="1.2"/><path d="M597.25 380.24V404.34M593.95 380.24h6.6M593.95 404.34h6.6" stroke="#000" stroke-width="1.2" fill="none"/><rect x="594.3" y="389.34" width="5.9" height="5.9" fill="#000" stroke="#000" stroke-width="1.2"/><path d="M613.6 393.68V410.37M610.3 393.68h6.6M610.3 410.37h6.6" stroke="#000" stroke-width="1.2" fill="none"/><rect x="610.65" y="399.07" width="5.9" height="5.9" fill="#000" stroke="#000" stroke-width="1.2"/><path d="M640.85 398.31V413.15M637.55 398.31h6.6M637.55 413.15h6.6" stroke="#000" stroke-width="1.2" fill="none"/><rect x="637.9" y="402.78" width="5.9" height="5.9" fill="#000" stroke="#000" stroke-width="1.2"/><path d="M668.1 409.44V426.12M664.8 409.44h6.6M664.8 426.12h6.6" stroke="#000" stroke-width="1.2" fill="none"/><rect x="665.15" y="414.83" width="5.9" height="5.9" fill="#000" stroke="#000" stroke-width="1.2"/>
<circle cx="395.6" cy="478.5" r="2.95" fill="#fff" stroke="#000" stroke-width="1.2"/><circle cx="433.75" cy="478.5" r="2.95" fill="#fff" stroke="#000" stroke-width="1.2"/><circle cx="471.9" cy="476.65" r="2.95" fill="#fff" stroke="#000" stroke-width="1.2"/><path d="M488.25 452.54V463.67M484.95 452.54h6.6M484.95 463.67h6.6" stroke="#000" stroke-width="1.2" fill="none"/><circle cx="488.25" cy="458.11" r="2.95" fill="#fff" stroke="#000" stroke-width="1.2"/><circle cx="504.6" cy="440.49" r="2.95" fill="#fff" stroke="#000" stroke-width="1.2"/><path d="M520.95 428.91V436.32M517.65 428.91h6.6M517.65 436.32h6.6" stroke="#000" stroke-width="1.2" fill="none"/><circle cx="520.95" cy="432.61" r="2.95" fill="#fff" stroke="#000" stroke-width="1.2"/><path d="M542.75 421.49V432.61M539.45 421.49h6.6M539.45 432.61h6.6" stroke="#000" stroke-width="1.2" fill="none"/><circle cx="542.75" cy="427.05" r="2.95" fill="#fff" stroke="#000" stroke-width="1.2"/><path d="M559.1 416.85V429.83M555.8 416.85h6.6M555.8 429.83h6.6" stroke="#000" stroke-width="1.2" fill="none"/><circle cx="559.1" cy="423.34" r="2.95" fill="#fff" stroke="#000" stroke-width="1.2"/><path d="M580.9 423.34V432.61M577.6 423.34h6.6M577.6 432.61h6.6" stroke="#000" stroke-width="1.2" fill="none"/><circle cx="580.9" cy="427.98" r="2.95" fill="#fff" stroke="#000" stroke-width="1.2"/><path d="M597.25 420.56V431.69M593.95 420.56h6.6M593.95 431.69h6.6" stroke="#000" stroke-width="1.2" fill="none"/><circle cx="597.25" cy="426.12" r="2.95" fill="#fff" stroke="#000" stroke-width="1.2"/><path d="M613.6 425.66V436.79M610.3 425.66h6.6M610.3 436.79h6.6" stroke="#000" stroke-width="1.2" fill="none"/><circle cx="613.6" cy="431.22" r="2.95" fill="#fff" stroke="#000" stroke-width="1.2"/><path d="M640.85 422.88V439.57M637.55 422.88h6.6M637.55 439.57h6.6" stroke="#000" stroke-width="1.2" fill="none"/><circle cx="640.85" cy="431.22" r="2.95" fill="#fff" stroke="#000" stroke-width="1.2"/><path d="M668.1 434.47V451.15M664.8 434.47h6.6M664.8 451.15h6.6" stroke="#000" stroke-width="1.2" fill="none"/><circle cx="668.1" cy="442.81" r="2.95" fill="#fff" stroke="#000" stroke-width="1.2"/>
<path d="M497.2 456.8V474.7" stroke="#000" stroke-width="1.8"/>
<path d="M497.2 451.8L500.3 459.3L494.1 459.3Z" fill="#000"/>
<g font-family='"Liberation Sans", sans-serif' fill="#000" font-weight="bold" font-style="italic" font-size="6.5">
<text x="81.08" y="179" textLength="2.7" lengthAdjust="spacingAndGlyphs">#</text>
<text x="84.63" y="179" textLength="2.7" lengthAdjust="spacingAndGlyphs">#</text>
<text x="119.35" y="161.1" textLength="2.7" lengthAdjust="spacingAndGlyphs">#</text>
<text x="133.88" y="151.9" textLength="2.7" lengthAdjust="spacingAndGlyphs">#</text>
<text x="137.43" y="151.9" textLength="2.7" lengthAdjust="spacingAndGlyphs">#</text>
<text x="149.68" y="151.9" textLength="2.7" lengthAdjust="spacingAndGlyphs">#</text>
<text x="153.23" y="151.9" textLength="2.7" lengthAdjust="spacingAndGlyphs">#</text>
<text x="165.68" y="154.8" textLength="2.7" lengthAdjust="spacingAndGlyphs">#</text>
<text x="169.23" y="154.8" textLength="2.7" lengthAdjust="spacingAndGlyphs">#</text>
<text x="185.5" y="151.9" textLength="2.7" lengthAdjust="spacingAndGlyphs">#</text>
<text x="189.05" y="151.9" textLength="2.7" lengthAdjust="spacingAndGlyphs">#</text>
<text x="192.6" y="151.9" textLength="2.7" lengthAdjust="spacingAndGlyphs">#</text>
<text x="200.9" y="154.8" textLength="2.7" lengthAdjust="spacingAndGlyphs">#</text>
<text x="204.45" y="154.8" textLength="2.7" lengthAdjust="spacingAndGlyphs">#</text>
<text x="208" y="154.8" textLength="2.7" lengthAdjust="spacingAndGlyphs">#</text>
<text x="222.4" y="157.1" textLength="2.7" lengthAdjust="spacingAndGlyphs">#</text>
<text x="225.95" y="157.1" textLength="2.7" lengthAdjust="spacingAndGlyphs">#</text>
<text x="229.5" y="157.1" textLength="2.7" lengthAdjust="spacingAndGlyphs">#</text>
<text x="238" y="166.4" textLength="2.7" lengthAdjust="spacingAndGlyphs">#</text>
<text x="241.55" y="166.4" textLength="2.7" lengthAdjust="spacingAndGlyphs">#</text>
<text x="245.1" y="166.4" textLength="2.7" lengthAdjust="spacingAndGlyphs">#</text>
<text x="254.1" y="175.5" textLength="2.7" lengthAdjust="spacingAndGlyphs">#</text>
<text x="257.65" y="175.5" textLength="2.7" lengthAdjust="spacingAndGlyphs">#</text>
<text x="261.2" y="175.5" textLength="2.7" lengthAdjust="spacingAndGlyphs">#</text>
<text x="270.1" y="174.4" textLength="2.7" lengthAdjust="spacingAndGlyphs">#</text>
<text x="273.65" y="174.4" textLength="2.7" lengthAdjust="spacingAndGlyphs">#</text>
<text x="277.2" y="174.4" textLength="2.7" lengthAdjust="spacingAndGlyphs">#</text>
<text x="286.1" y="169.8" textLength="2.7" lengthAdjust="spacingAndGlyphs">#</text>
<text x="289.65" y="169.8" textLength="2.7" lengthAdjust="spacingAndGlyphs">#</text>
<text x="293.2" y="169.8" textLength="2.7" lengthAdjust="spacingAndGlyphs">#</text>
<text x="307.1" y="169.3" textLength="2.7" lengthAdjust="spacingAndGlyphs">#</text>
<text x="310.65" y="169.3" textLength="2.7" lengthAdjust="spacingAndGlyphs">#</text>
<text x="314.2" y="169.3" textLength="2.7" lengthAdjust="spacingAndGlyphs">#</text>
<text x="472.4" y="152.8" textLength="2.7" lengthAdjust="spacingAndGlyphs">#</text>
<text x="475.95" y="152.8" textLength="2.7" lengthAdjust="spacingAndGlyphs">#</text>
<text x="479.5" y="152.8" textLength="2.7" lengthAdjust="spacingAndGlyphs">#</text>
<text x="498" y="72.2" textLength="2.7" lengthAdjust="spacingAndGlyphs">#</text>
<text x="501.55" y="72.2" textLength="2.7" lengthAdjust="spacingAndGlyphs">#</text>
<text x="505.1" y="72.2" textLength="2.7" lengthAdjust="spacingAndGlyphs">#</text>
<text x="514.6" y="45.1" textLength="2.7" lengthAdjust="spacingAndGlyphs">#</text>
<text x="518.15" y="45.1" textLength="2.7" lengthAdjust="spacingAndGlyphs">#</text>
<text x="521.7" y="45.1" textLength="2.7" lengthAdjust="spacingAndGlyphs">#</text>
<text x="536.2" y="42.6" textLength="2.7" lengthAdjust="spacingAndGlyphs">#</text>
<text x="539.75" y="42.6" textLength="2.7" lengthAdjust="spacingAndGlyphs">#</text>
<text x="543.3" y="42.6" textLength="2.7" lengthAdjust="spacingAndGlyphs">#</text>
<text x="551.6" y="39.6" textLength="2.7" lengthAdjust="spacingAndGlyphs">#</text>
<text x="555.15" y="39.6" textLength="2.7" lengthAdjust="spacingAndGlyphs">#</text>
<text x="558.7" y="39.6" textLength="2.7" lengthAdjust="spacingAndGlyphs">#</text>
<text x="572.7" y="41.6" textLength="2.7" lengthAdjust="spacingAndGlyphs">#</text>
<text x="576.25" y="41.6" textLength="2.7" lengthAdjust="spacingAndGlyphs">#</text>
<text x="579.8" y="41.6" textLength="2.7" lengthAdjust="spacingAndGlyphs">#</text>
<text x="588.9" y="39" textLength="2.7" lengthAdjust="spacingAndGlyphs">#</text>
<text x="592.45" y="39" textLength="2.7" lengthAdjust="spacingAndGlyphs">#</text>
<text x="596" y="39" textLength="2.7" lengthAdjust="spacingAndGlyphs">#</text>
<text x="604.8" y="41" textLength="2.7" lengthAdjust="spacingAndGlyphs">#</text>
<text x="608.35" y="41" textLength="2.7" lengthAdjust="spacingAndGlyphs">#</text>
<text x="611.9" y="41" textLength="2.7" lengthAdjust="spacingAndGlyphs">#</text>
<text x="631.2" y="39.6" textLength="2.7" lengthAdjust="spacingAndGlyphs">#</text>
<text x="634.75" y="39.6" textLength="2.7" lengthAdjust="spacingAndGlyphs">#</text>
<text x="638.3" y="39.6" textLength="2.7" lengthAdjust="spacingAndGlyphs">#</text>
<text x="657.4" y="36.4" textLength="2.7" lengthAdjust="spacingAndGlyphs">#</text>
<text x="660.95" y="36.4" textLength="2.7" lengthAdjust="spacingAndGlyphs">#</text>
<text x="664.5" y="36.4" textLength="2.7" lengthAdjust="spacingAndGlyphs">#</text>
<text x="130.3" y="389.7" textLength="2.7" lengthAdjust="spacingAndGlyphs">#</text>
<text x="133.85" y="389.7" textLength="2.7" lengthAdjust="spacingAndGlyphs">#</text>
<text x="137.4" y="389.7" textLength="2.7" lengthAdjust="spacingAndGlyphs">#</text>
<text x="145.9" y="357.6" textLength="2.7" lengthAdjust="spacingAndGlyphs">#</text>
<text x="149.45" y="357.6" textLength="2.7" lengthAdjust="spacingAndGlyphs">#</text>
<text x="153" y="357.6" textLength="2.7" lengthAdjust="spacingAndGlyphs">#</text>
<text x="161.2" y="346.8" textLength="2.7" lengthAdjust="spacingAndGlyphs">#</text>
<text x="164.75" y="346.8" textLength="2.7" lengthAdjust="spacingAndGlyphs">#</text>
<text x="168.3" y="346.8" textLength="2.7" lengthAdjust="spacingAndGlyphs">#</text>
<text x="182.5" y="345.5" textLength="2.7" lengthAdjust="spacingAndGlyphs">#</text>
<text x="186.05" y="345.5" textLength="2.7" lengthAdjust="spacingAndGlyphs">#</text>
<text x="189.6" y="345.5" textLength="2.7" lengthAdjust="spacingAndGlyphs">#</text>
<text x="197.8" y="335.4" textLength="2.7" lengthAdjust="spacingAndGlyphs">#</text>
<text x="201.35" y="335.4" textLength="2.7" lengthAdjust="spacingAndGlyphs">#</text>
<text x="204.9" y="335.4" textLength="2.7" lengthAdjust="spacingAndGlyphs">#</text>
<text x="219.88" y="333.1" textLength="2.7" lengthAdjust="spacingAndGlyphs">#</text>
<text x="223.43" y="333.1" textLength="2.7" lengthAdjust="spacingAndGlyphs">#</text>
<text x="233.5" y="336.3" textLength="2.7" lengthAdjust="spacingAndGlyphs">#</text>
<text x="237.05" y="336.3" textLength="2.7" lengthAdjust="spacingAndGlyphs">#</text>
<text x="240.6" y="336.3" textLength="2.7" lengthAdjust="spacingAndGlyphs">#</text>
<text x="249.5" y="333.5" textLength="2.7" lengthAdjust="spacingAndGlyphs">#</text>
<text x="253.05" y="333.5" textLength="2.7" lengthAdjust="spacingAndGlyphs">#</text>
<text x="256.6" y="333.5" textLength="2.7" lengthAdjust="spacingAndGlyphs">#</text>
<text x="274.9" y="340.9" textLength="2.7" lengthAdjust="spacingAndGlyphs">#</text>
<text x="278.45" y="340.9" textLength="2.7" lengthAdjust="spacingAndGlyphs">#</text>
<text x="282" y="340.9" textLength="2.7" lengthAdjust="spacingAndGlyphs">#</text>
<text x="301" y="344.5" textLength="2.7" lengthAdjust="spacingAndGlyphs">#</text>
<text x="304.55" y="344.5" textLength="2.7" lengthAdjust="spacingAndGlyphs">#</text>
<text x="308.1" y="344.5" textLength="2.7" lengthAdjust="spacingAndGlyphs">#</text>
<text x="484.68" y="439.5" textLength="2.7" lengthAdjust="spacingAndGlyphs">#</text>
<text x="488.22" y="439.5" textLength="2.7" lengthAdjust="spacingAndGlyphs">#</text>
<text x="498.9" y="400.9" textLength="2.7" lengthAdjust="spacingAndGlyphs">#</text>
<text x="502.45" y="400.9" textLength="2.7" lengthAdjust="spacingAndGlyphs">#</text>
<text x="506" y="400.9" textLength="2.7" lengthAdjust="spacingAndGlyphs">#</text>
<text x="516.1" y="380.8" textLength="2.7" lengthAdjust="spacingAndGlyphs">#</text>
<text x="519.65" y="380.8" textLength="2.7" lengthAdjust="spacingAndGlyphs">#</text>
<text x="523.2" y="380.8" textLength="2.7" lengthAdjust="spacingAndGlyphs">#</text>
<text x="538.2" y="349.9" textLength="2.7" lengthAdjust="spacingAndGlyphs">#</text>
<text x="541.75" y="349.9" textLength="2.7" lengthAdjust="spacingAndGlyphs">#</text>
<text x="545.3" y="349.9" textLength="2.7" lengthAdjust="spacingAndGlyphs">#</text>
<text x="554.5" y="347" textLength="2.7" lengthAdjust="spacingAndGlyphs">#</text>
<text x="558.05" y="347" textLength="2.7" lengthAdjust="spacingAndGlyphs">#</text>
<text x="561.6" y="347" textLength="2.7" lengthAdjust="spacingAndGlyphs">#</text>
<text x="576.3" y="335.7" textLength="2.7" lengthAdjust="spacingAndGlyphs">#</text>
<text x="579.85" y="335.7" textLength="2.7" lengthAdjust="spacingAndGlyphs">#</text>
<text x="583.4" y="335.7" textLength="2.7" lengthAdjust="spacingAndGlyphs">#</text>
<text x="592.4" y="334.5" textLength="2.7" lengthAdjust="spacingAndGlyphs">#</text>
<text x="595.95" y="334.5" textLength="2.7" lengthAdjust="spacingAndGlyphs">#</text>
<text x="599.5" y="334.5" textLength="2.7" lengthAdjust="spacingAndGlyphs">#</text>
<text x="609" y="332.5" textLength="2.7" lengthAdjust="spacingAndGlyphs">#</text>
<text x="612.55" y="332.5" textLength="2.7" lengthAdjust="spacingAndGlyphs">#</text>
<text x="616.1" y="332.5" textLength="2.7" lengthAdjust="spacingAndGlyphs">#</text>
<text x="636.2" y="334" textLength="2.7" lengthAdjust="spacingAndGlyphs">#</text>
<text x="639.75" y="334" textLength="2.7" lengthAdjust="spacingAndGlyphs">#</text>
<text x="643.3" y="334" textLength="2.7" lengthAdjust="spacingAndGlyphs">#</text>
<text x="663.5" y="338.2" textLength="2.7" lengthAdjust="spacingAndGlyphs">#</text>
<text x="667.05" y="338.2" textLength="2.7" lengthAdjust="spacingAndGlyphs">#</text>
<text x="670.6" y="338.2" textLength="2.7" lengthAdjust="spacingAndGlyphs">#</text>
</g>
<g fill="#3c3c3c">
<path d="M196.1 107.05L196.6 108.21L197.86 108.33L196.91 109.16L197.19 110.4L196.1 109.75L195.01 110.4L195.29 109.16L194.34 108.33L195.6 108.21Z"/>
<path d="M211.3 104.75L211.8 105.91L213.06 106.03L212.11 106.86L212.39 108.1L211.3 107.45L210.21 108.1L210.49 106.86L209.54 106.03L210.8 105.91Z"/>
<path d="M233.85 99.45L234.35 100.61L235.61 100.73L234.66 101.56L234.94 102.8L233.85 102.15L232.76 102.8L233.04 101.56L232.09 100.73L233.35 100.61ZM237.75 99.45L238.25 100.61L239.51 100.73L238.56 101.56L238.84 102.8L237.75 102.15L236.66 102.8L236.94 101.56L235.99 100.73L237.25 100.61Z"/>
<path d="M247.3 98.85L247.8 100.01L249.06 100.13L248.11 100.96L248.39 102.2L247.3 101.55L246.21 102.2L246.49 100.96L245.54 100.13L246.8 100.01ZM251.2 98.85L251.7 100.01L252.96 100.13L252.01 100.96L252.29 102.2L251.2 101.55L250.11 102.2L250.39 100.96L249.44 100.13L250.7 100.01ZM255.1 98.85L255.6 100.01L256.86 100.13L255.91 100.96L256.19 102.2L255.1 101.55L254.01 102.2L254.29 100.96L253.34 100.13L254.6 100.01Z"/>
<path d="M232.8 113.85L233.3 115.01L234.56 115.13L233.61 115.96L233.89 117.2L232.8 116.55L231.71 117.2L231.99 115.96L231.04 115.13L232.3 115.01Z"/>
<path d="M247.15 112.65L247.65 113.81L248.91 113.93L247.96 114.76L248.24 116L247.15 115.35L246.06 116L246.34 114.76L245.39 113.93L246.65 113.81ZM251.05 112.65L251.55 113.81L252.81 113.93L251.86 114.76L252.14 116L251.05 115.35L249.96 116L250.24 114.76L249.29 113.93L250.55 113.81Z"/>
<path d="M247.5 123.95L248 125.11L249.26 125.23L248.31 126.06L248.59 127.3L247.5 126.65L246.41 127.3L246.69 126.06L245.74 125.23L247 125.11Z"/>
<path d="M262.8 102.25L263.3 103.41L264.56 103.53L263.61 104.36L263.89 105.6L262.8 104.95L261.71 105.6L261.99 104.36L261.04 103.53L262.3 103.41ZM266.7 102.25L267.2 103.41L268.46 103.53L267.51 104.36L267.79 105.6L266.7 104.95L265.61 105.6L265.89 104.36L264.94 103.53L266.2 103.41ZM270.6 102.25L271.1 103.41L272.36 103.53L271.41 104.36L271.69 105.6L270.6 104.95L269.51 105.6L269.79 104.36L268.84 103.53L270.1 103.41Z"/>
<path d="M278.9 102.85L279.4 104.01L280.66 104.13L279.71 104.96L279.99 106.2L278.9 105.55L277.81 106.2L278.09 104.96L277.14 104.13L278.4 104.01ZM282.8 102.85L283.3 104.01L284.56 104.13L283.61 104.96L283.89 106.2L282.8 105.55L281.71 106.2L281.99 104.96L281.04 104.13L282.3 104.01ZM286.7 102.85L287.2 104.01L288.46 104.13L287.51 104.96L287.79 106.2L286.7 105.55L285.61 106.2L285.89 104.96L284.94 104.13L286.2 104.01Z"/>
<path d="M296.1 99.95L296.6 101.11L297.86 101.23L296.91 102.06L297.19 103.3L296.1 102.65L295.01 103.3L295.29 102.06L294.34 101.23L295.6 101.11ZM300 99.95L300.5 101.11L301.76 101.23L300.81 102.06L301.09 103.3L300 102.65L298.91 103.3L299.19 102.06L298.24 101.23L299.5 101.11ZM303.9 99.95L304.4 101.11L305.66 101.23L304.71 102.06L304.99 103.3L303.9 102.65L302.81 103.3L303.09 102.06L302.14 101.23L303.4 101.11Z"/>
<path d="M308.9 91.15L309.4 92.31L310.66 92.43L309.71 93.26L309.99 94.5L308.9 93.85L307.81 94.5L308.09 93.26L307.14 92.43L308.4 92.31ZM312.8 91.15L313.3 92.31L314.56 92.43L313.61 93.26L313.89 94.5L312.8 93.85L311.71 94.5L311.99 93.26L311.04 92.43L312.3 92.31ZM316.7 91.15L317.2 92.31L318.46 92.43L317.51 93.26L317.79 94.5L316.7 93.85L315.61 94.5L315.89 93.26L314.94 92.43L316.2 92.31Z"/>
<path d="M262.8 112.85L263.3 114.01L264.56 114.13L263.61 114.96L263.89 116.2L262.8 115.55L261.71 116.2L261.99 114.96L261.04 114.13L262.3 114.01ZM266.7 112.85L267.2 114.01L268.46 114.13L267.51 114.96L267.79 116.2L266.7 115.55L265.61 116.2L265.89 114.96L264.94 114.13L266.2 114.01ZM270.6 112.85L271.1 114.01L272.36 114.13L271.41 114.96L271.69 116.2L270.6 115.55L269.51 116.2L269.79 114.96L268.84 114.13L270.1 114.01Z"/>
<path d="M278 111.95L278.5 113.11L279.76 113.23L278.81 114.06L279.09 115.3L278 114.65L276.91 115.3L277.19 114.06L276.24 113.23L277.5 113.11ZM281.9 111.95L282.4 113.11L283.66 113.23L282.71 114.06L282.99 115.3L281.9 114.65L280.81 115.3L281.09 114.06L280.14 113.23L281.4 113.11ZM285.8 111.95L286.3 113.11L287.56 113.23L286.61 114.06L286.89 115.3L285.8 114.65L284.71 115.3L284.99 114.06L284.04 113.23L285.3 113.11Z"/>
<path d="M295.65 108.45L296.15 109.61L297.41 109.73L296.46 110.56L296.74 111.8L295.65 111.15L294.56 111.8L294.84 110.56L293.89 109.73L295.15 109.61ZM299.55 108.45L300.05 109.61L301.31 109.73L300.36 110.56L300.64 111.8L299.55 111.15L298.46 111.8L298.74 110.56L297.79 109.73L299.05 109.61Z"/>
<path d="M317.7 106.95L318.2 108.11L319.46 108.23L318.51 109.06L318.79 110.3L317.7 109.65L316.61 110.3L316.89 109.06L315.94 108.23L317.2 108.11ZM321.6 106.95L322.1 108.11L323.36 108.23L322.41 109.06L322.69 110.3L321.6 109.65L320.51 110.3L320.79 109.06L319.84 108.23L321.1 108.11ZM325.5 106.95L326 108.11L327.26 108.23L326.31 109.06L326.59 110.3L325.5 109.65L324.41 110.3L324.69 109.06L323.74 108.23L325 108.11Z"/>
<path d="M318.45 118.65L318.95 119.81L320.21 119.93L319.26 120.76L319.54 122L318.45 121.35L317.36 122L317.64 120.76L316.69 119.93L317.95 119.81ZM322.35 118.65L322.85 119.81L324.11 119.93L323.16 120.76L323.44 122L322.35 121.35L321.26 122L321.54 120.76L320.59 119.93L321.85 119.81Z"/>
<path d="M318.6 127.95L319.1 129.11L320.36 129.23L319.41 130.06L319.69 131.3L318.6 130.65L317.51 131.3L317.79 130.06L316.84 129.23L318.1 129.11Z"/>
<path d="M264.9 127.35L265.4 128.51L266.66 128.63L265.71 129.46L265.99 130.7L264.9 130.05L263.81 130.7L264.09 129.46L263.14 128.63L264.4 128.51Z"/>
<path d="M264.9 131.45L265.4 132.61L266.66 132.73L265.71 133.56L265.99 134.8L264.9 134.15L263.81 134.8L264.09 133.56L263.14 132.73L264.4 132.61Z"/>
<path d="M280.5 130.95L281 132.11L282.26 132.23L281.31 133.06L281.59 134.3L280.5 133.65L279.41 134.3L279.69 133.06L278.74 132.23L280 132.11Z"/>
<path d="M525.8 104.55L526.3 105.71L527.56 105.83L526.61 106.66L526.89 107.9L525.8 107.25L524.71 107.9L524.99 106.66L524.04 105.83L525.3 105.71Z"/>
<path d="M525.8 115.35L526.3 116.51L527.56 116.63L526.61 117.46L526.89 118.7L525.8 118.05L524.71 118.7L524.99 117.46L524.04 116.63L525.3 116.51Z"/>
<path d="M517.15 132.35L517.65 133.51L518.91 133.63L517.96 134.46L518.24 135.7L517.15 135.05L516.06 135.7L516.34 134.46L515.39 133.63L516.65 133.51ZM521.05 132.35L521.55 133.51L522.81 133.63L521.86 134.46L522.14 135.7L521.05 135.05L519.96 135.7L520.24 134.46L519.29 133.63L520.55 133.51Z"/>
<path d="M554.65 110.25L555.15 111.41L556.41 111.53L555.46 112.36L555.74 113.6L554.65 112.95L553.56 113.6L553.84 112.36L552.89 111.53L554.15 111.41ZM558.55 110.25L559.05 111.41L560.31 111.53L559.36 112.36L559.64 113.6L558.55 112.95L557.46 113.6L557.74 112.36L556.79 111.53L558.05 111.41Z"/>
<path d="M575.45 120.35L575.95 121.51L577.21 121.63L576.26 122.46L576.54 123.7L575.45 123.05L574.36 123.7L574.64 122.46L573.69 121.63L574.95 121.51ZM579.35 120.35L579.85 121.51L581.11 121.63L580.16 122.46L580.44 123.7L579.35 123.05L578.26 123.7L578.54 122.46L577.59 121.63L578.85 121.51Z"/>
<path d="M590 136.65L590.5 137.81L591.76 137.93L590.81 138.76L591.09 140L590 139.35L588.91 140L589.19 138.76L588.24 137.93L589.5 137.81ZM593.9 136.65L594.4 137.81L595.66 137.93L594.71 138.76L594.99 140L593.9 139.35L592.81 140L593.09 138.76L592.14 137.93L593.4 137.81ZM597.8 136.65L598.3 137.81L599.56 137.93L598.61 138.76L598.89 140L597.8 139.35L596.71 140L596.99 138.76L596.04 137.93L597.3 137.81Z"/>
<path d="M504 167.25L504.5 168.41L505.76 168.53L504.81 169.36L505.09 170.6L504 169.95L502.91 170.6L503.19 169.36L502.24 168.53L503.5 168.41Z"/>
<path d="M494 185.35L494.5 186.51L495.76 186.63L494.81 187.46L495.09 188.7L494 188.05L492.91 188.7L493.19 187.46L492.24 186.63L493.5 186.51Z"/>
<path d="M494 190.55L494.5 191.71L495.76 191.83L494.81 192.66L495.09 193.9L494 193.25L492.91 193.9L493.19 192.66L492.24 191.83L493.5 191.71Z"/>
<path d="M494.75 194.85L495.25 196.01L496.51 196.13L495.56 196.96L495.84 198.2L494.75 197.55L493.66 198.2L493.94 196.96L492.99 196.13L494.25 196.01ZM498.65 194.85L499.15 196.01L500.41 196.13L499.46 196.96L499.74 198.2L498.65 197.55L497.56 198.2L497.84 196.96L496.89 196.13L498.15 196.01Z"/>
<path d="M607.75 70.75L608.25 71.91L609.51 72.03L608.56 72.86L608.84 74.1L607.75 73.45L606.66 74.1L606.94 72.86L605.99 72.03L607.25 71.91ZM611.65 70.75L612.15 71.91L613.41 72.03L612.46 72.86L612.74 74.1L611.65 73.45L610.56 74.1L610.84 72.86L609.89 72.03L611.15 71.91Z"/>
<path d="M607.75 76.65L608.25 77.81L609.51 77.93L608.56 78.76L608.84 80L607.75 79.35L606.66 80L606.94 78.76L605.99 77.93L607.25 77.81ZM611.65 76.65L612.15 77.81L613.41 77.93L612.46 78.76L612.74 80L611.65 79.35L610.56 80L610.84 78.76L609.89 77.93L611.15 77.81Z"/>
<path d="M634.15 79.95L634.65 81.11L635.91 81.23L634.96 82.06L635.24 83.3L634.15 82.65L633.06 83.3L633.34 82.06L632.39 81.23L633.65 81.11ZM638.05 79.95L638.55 81.11L639.81 81.23L638.86 82.06L639.14 83.3L638.05 82.65L636.96 83.3L637.24 82.06L636.29 81.23L637.55 81.11Z"/>
<path d="M660.35 79.15L660.85 80.31L662.11 80.43L661.16 81.26L661.44 82.5L660.35 81.85L659.26 82.5L659.54 81.26L658.59 80.43L659.85 80.31ZM664.25 79.15L664.75 80.31L666.01 80.43L665.06 81.26L665.34 82.5L664.25 81.85L663.16 82.5L663.44 81.26L662.49 80.43L663.75 80.31Z"/>
<path d="M597.7 98.35L598.2 99.51L599.46 99.63L598.51 100.46L598.79 101.7L597.7 101.05L596.61 101.7L596.89 100.46L595.94 99.63L597.2 99.51ZM601.6 98.35L602.1 99.51L603.36 99.63L602.41 100.46L602.69 101.7L601.6 101.05L600.51 101.7L600.79 100.46L599.84 99.63L601.1 99.51ZM605.5 98.35L606 99.51L607.26 99.63L606.31 100.46L606.59 101.7L605.5 101.05L604.41 101.7L604.69 100.46L603.74 99.63L605 99.51Z"/>
<path d="M641.7 100.35L642.2 101.51L643.46 101.63L642.51 102.46L642.79 103.7L641.7 103.05L640.61 103.7L640.89 102.46L639.94 101.63L641.2 101.51ZM645.6 100.35L646.1 101.51L647.36 101.63L646.41 102.46L646.69 103.7L645.6 103.05L644.51 103.7L644.79 102.46L643.84 101.63L645.1 101.51ZM649.5 100.35L650 101.51L651.26 101.63L650.31 102.46L650.59 103.7L649.5 103.05L648.41 103.7L648.69 102.46L647.74 101.63L649 101.51Z"/>
<path d="M666.3 95.35L666.8 96.51L668.06 96.63L667.11 97.46L667.39 98.7L666.3 98.05L665.21 98.7L665.49 97.46L664.54 96.63L665.8 96.51Z"/>
<path d="M606.2 134.45L606.7 135.61L607.96 135.73L607.01 136.56L607.29 137.8L606.2 137.15L605.11 137.8L605.39 136.56L604.44 135.73L605.7 135.61ZM610.1 134.45L610.6 135.61L611.86 135.73L610.91 136.56L611.19 137.8L610.1 137.15L609.01 137.8L609.29 136.56L608.34 135.73L609.6 135.61ZM614 134.45L614.5 135.61L615.76 135.73L614.81 136.56L615.09 137.8L614 137.15L612.91 137.8L613.19 136.56L612.24 135.73L613.5 135.61Z"/>
<path d="M641.3 124.35L641.8 125.51L643.06 125.63L642.11 126.46L642.39 127.7L641.3 127.05L640.21 127.7L640.49 126.46L639.54 125.63L640.8 125.51ZM645.2 124.35L645.7 125.51L646.96 125.63L646.01 126.46L646.29 127.7L645.2 127.05L644.11 127.7L644.39 126.46L643.44 125.63L644.7 125.51ZM649.1 124.35L649.6 125.51L650.86 125.63L649.91 126.46L650.19 127.7L649.1 127.05L648.01 127.7L648.29 126.46L647.34 125.63L648.6 125.51Z"/>
<path d="M659.3 116.75L659.8 117.91L661.06 118.03L660.11 118.86L660.39 120.1L659.3 119.45L658.21 120.1L658.49 118.86L657.54 118.03L658.8 117.91ZM663.2 116.75L663.7 117.91L664.96 118.03L664.01 118.86L664.29 120.1L663.2 119.45L662.11 120.1L662.39 118.86L661.44 118.03L662.7 117.91ZM667.1 116.75L667.6 117.91L668.86 118.03L667.91 118.86L668.19 120.1L667.1 119.45L666.01 120.1L666.29 118.86L665.34 118.03L666.6 117.91Z"/>
<path d="M606.2 166.45L606.7 167.61L607.96 167.73L607.01 168.56L607.29 169.8L606.2 169.15L605.11 169.8L605.39 168.56L604.44 167.73L605.7 167.61ZM610.1 166.45L610.6 167.61L611.86 167.73L610.91 168.56L611.19 169.8L610.1 169.15L609.01 169.8L609.29 168.56L608.34 167.73L609.6 167.61ZM614 166.45L614.5 167.61L615.76 167.73L614.81 168.56L615.09 169.8L614 169.15L612.91 169.8L613.19 168.56L612.24 167.73L613.5 167.61Z"/>
<path d="M645.3 152.05L645.8 153.21L647.06 153.33L646.11 154.16L646.39 155.4L645.3 154.75L644.21 155.4L644.49 154.16L643.54 153.33L644.8 153.21ZM649.2 152.05L649.7 153.21L650.96 153.33L650.01 154.16L650.29 155.4L649.2 154.75L648.11 155.4L648.39 154.16L647.44 153.33L648.7 153.21ZM653.1 152.05L653.6 153.21L654.86 153.33L653.91 154.16L654.19 155.4L653.1 154.75L652.01 155.4L652.29 154.16L651.34 153.33L652.6 153.21Z"/>
<path d="M670.3 145.45L670.8 146.61L672.06 146.73L671.11 147.56L671.39 148.8L670.3 148.15L669.21 148.8L669.49 147.56L668.54 146.73L669.8 146.61ZM674.2 145.45L674.7 146.61L675.96 146.73L675.01 147.56L675.29 148.8L674.2 148.15L673.11 148.8L673.39 147.56L672.44 146.73L673.7 146.61ZM678.1 145.45L678.6 146.61L679.86 146.73L678.91 147.56L679.19 148.8L678.1 148.15L677.01 148.8L677.29 147.56L676.34 146.73L677.6 146.61Z"/>
<path d="M642.3 174.05L642.8 175.21L644.06 175.33L643.11 176.16L643.39 177.4L642.3 176.75L641.21 177.4L641.49 176.16L640.54 175.33L641.8 175.21ZM646.2 174.05L646.7 175.21L647.96 175.33L647.01 176.16L647.29 177.4L646.2 176.75L645.11 177.4L645.39 176.16L644.44 175.33L645.7 175.21ZM650.1 174.05L650.6 175.21L651.86 175.33L650.91 176.16L651.19 177.4L650.1 176.75L649.01 177.4L649.29 176.16L648.34 175.33L649.6 175.21Z"/>
<path d="M670.7 172.85L671.2 174.01L672.46 174.13L671.51 174.96L671.79 176.2L670.7 175.55L669.61 176.2L669.89 174.96L668.94 174.13L670.2 174.01ZM674.6 172.85L675.1 174.01L676.36 174.13L675.41 174.96L675.69 176.2L674.6 175.55L673.51 176.2L673.79 174.96L672.84 174.13L674.1 174.01ZM678.5 172.85L679 174.01L680.26 174.13L679.31 174.96L679.59 176.2L678.5 175.55L677.41 176.2L677.69 174.96L676.74 174.13L678 174.01Z"/>
<path d="M153.85 407.65L154.35 408.81L155.61 408.93L154.66 409.76L154.94 411L153.85 410.35L152.76 411L153.04 409.76L152.09 408.93L153.35 408.81ZM157.75 407.65L158.25 408.81L159.51 408.93L158.56 409.76L158.84 411L157.75 410.35L156.66 411L156.94 409.76L155.99 408.93L157.25 408.81Z"/>
<path d="M171.4 403.55L171.9 404.71L173.16 404.83L172.21 405.66L172.49 406.9L171.4 406.25L170.31 406.9L170.59 405.66L169.64 404.83L170.9 404.71Z"/>
<path d="M189.35 401.95L189.85 403.11L191.11 403.23L190.16 404.06L190.44 405.3L189.35 404.65L188.26 405.3L188.54 404.06L187.59 403.23L188.85 403.11ZM193.25 401.95L193.75 403.11L195.01 403.23L194.06 404.06L194.34 405.3L193.25 404.65L192.16 405.3L192.44 404.06L191.49 403.23L192.75 403.11Z"/>
<path d="M203.4 406.55L203.9 407.71L205.16 407.83L204.21 408.66L204.49 409.9L203.4 409.25L202.31 409.9L202.59 408.66L201.64 407.83L202.9 407.71ZM207.3 406.55L207.8 407.71L209.06 407.83L208.11 408.66L208.39 409.9L207.3 409.25L206.21 409.9L206.49 408.66L205.54 407.83L206.8 407.71ZM211.2 406.55L211.7 407.71L212.96 407.83L212.01 408.66L212.29 409.9L211.2 409.25L210.11 409.9L210.39 408.66L209.44 407.83L210.7 407.71Z"/>
<path d="M184 435.55L184.5 436.71L185.76 436.83L184.81 437.66L185.09 438.9L184 438.25L182.91 438.9L183.19 437.66L182.24 436.83L183.5 436.71ZM187.9 435.55L188.4 436.71L189.66 436.83L188.71 437.66L188.99 438.9L187.9 438.25L186.81 438.9L187.09 437.66L186.14 436.83L187.4 436.71ZM191.8 435.55L192.3 436.71L193.56 436.83L192.61 437.66L192.89 438.9L191.8 438.25L190.71 438.9L190.99 437.66L190.04 436.83L191.3 436.71Z"/>
<path d="M198.8 431.75L199.3 432.91L200.56 433.03L199.61 433.86L199.89 435.1L198.8 434.45L197.71 435.1L197.99 433.86L197.04 433.03L198.3 432.91ZM202.7 431.75L203.2 432.91L204.46 433.03L203.51 433.86L203.79 435.1L202.7 434.45L201.61 435.1L201.89 433.86L200.94 433.03L202.2 432.91ZM206.6 431.75L207.1 432.91L208.36 433.03L207.41 433.86L207.69 435.1L206.6 434.45L205.51 435.1L205.79 433.86L204.84 433.03L206.1 432.91Z"/>
<path d="M219.3 433.55L219.8 434.71L221.06 434.83L220.11 435.66L220.39 436.9L219.3 436.25L218.21 436.9L218.49 435.66L217.54 434.83L218.8 434.71ZM223.2 433.55L223.7 434.71L224.96 434.83L224.01 435.66L224.29 436.9L223.2 436.25L222.11 436.9L222.39 435.66L221.44 434.83L222.7 434.71ZM227.1 433.55L227.6 434.71L228.86 434.83L227.91 435.66L228.19 436.9L227.1 436.25L226.01 436.9L226.29 435.66L225.34 434.83L226.6 434.71Z"/>
<path d="M234.7 435.15L235.2 436.31L236.46 436.43L235.51 437.26L235.79 438.5L234.7 437.85L233.61 438.5L233.89 437.26L232.94 436.43L234.2 436.31ZM238.6 435.15L239.1 436.31L240.36 436.43L239.41 437.26L239.69 438.5L238.6 437.85L237.51 438.5L237.79 437.26L236.84 436.43L238.1 436.31ZM242.5 435.15L243 436.31L244.26 436.43L243.31 437.26L243.59 438.5L242.5 437.85L241.41 438.5L241.69 437.26L240.74 436.43L242 436.31Z"/>
<path d="M243 373.35L243.5 374.51L244.76 374.63L243.81 375.46L244.09 376.7L243 376.05L241.91 376.7L242.19 375.46L241.24 374.63L242.5 374.51Z"/>
<path d="M258 375.55L258.5 376.71L259.76 376.83L258.81 377.66L259.09 378.9L258 378.25L256.91 378.9L257.19 377.66L256.24 376.83L257.5 376.71Z"/>
<path d="M312.3 386.55L312.8 387.71L314.06 387.83L313.11 388.66L313.39 389.9L312.3 389.25L311.21 389.9L311.49 388.66L310.54 387.83L311.8 387.71Z"/>
<path d="M243.2 387.05L243.7 388.21L244.96 388.33L244.01 389.16L244.29 390.4L243.2 389.75L242.11 390.4L242.39 389.16L241.44 388.33L242.7 388.21ZM247.1 387.05L247.6 388.21L248.86 388.33L247.91 389.16L248.19 390.4L247.1 389.75L246.01 390.4L246.29 389.16L245.34 388.33L246.6 388.21ZM251 387.05L251.5 388.21L252.76 388.33L251.81 389.16L252.09 390.4L251 389.75L249.91 390.4L250.19 389.16L249.24 388.33L250.5 388.21Z"/>
<path d="M260.3 391.65L260.8 392.81L262.06 392.93L261.11 393.76L261.39 395L260.3 394.35L259.21 395L259.49 393.76L258.54 392.93L259.8 392.81ZM264.2 391.65L264.7 392.81L265.96 392.93L265.01 393.76L265.29 395L264.2 394.35L263.11 395L263.39 393.76L262.44 392.93L263.7 392.81ZM268.1 391.65L268.6 392.81L269.86 392.93L268.91 393.76L269.19 395L268.1 394.35L267.01 395L267.29 393.76L266.34 392.93L267.6 392.81Z"/>
<path d="M285.5 396.25L286 397.41L287.26 397.53L286.31 398.36L286.59 399.6L285.5 398.95L284.41 399.6L284.69 398.36L283.74 397.53L285 397.41ZM289.4 396.25L289.9 397.41L291.16 397.53L290.21 398.36L290.49 399.6L289.4 398.95L288.31 399.6L288.59 398.36L287.64 397.53L288.9 397.41ZM293.3 396.25L293.8 397.41L295.06 397.53L294.11 398.36L294.39 399.6L293.3 398.95L292.21 399.6L292.49 398.36L291.54 397.53L292.8 397.41Z"/>
<path d="M311.9 401.75L312.4 402.91L313.66 403.03L312.71 403.86L312.99 405.1L311.9 404.45L310.81 405.1L311.09 403.86L310.14 403.03L311.4 402.91ZM315.8 401.75L316.3 402.91L317.56 403.03L316.61 403.86L316.89 405.1L315.8 404.45L314.71 405.1L314.99 403.86L314.04 403.03L315.3 402.91ZM319.7 401.75L320.2 402.91L321.46 403.03L320.51 403.86L320.79 405.1L319.7 404.45L318.61 405.1L318.89 403.86L317.94 403.03L319.2 402.91Z"/>
<path d="M226.5 411.45L227 412.61L228.26 412.73L227.31 413.56L227.59 414.8L226.5 414.15L225.41 414.8L225.69 413.56L224.74 412.73L226 412.61ZM230.4 411.45L230.9 412.61L232.16 412.73L231.21 413.56L231.49 414.8L230.4 414.15L229.31 414.8L229.59 413.56L228.64 412.73L229.9 412.61ZM234.3 411.45L234.8 412.61L236.06 412.73L235.11 413.56L235.39 414.8L234.3 414.15L233.21 414.8L233.49 413.56L232.54 412.73L233.8 412.61Z"/>
<path d="M240.9 414.95L241.4 416.11L242.66 416.23L241.71 417.06L241.99 418.3L240.9 417.65L239.81 418.3L240.09 417.06L239.14 416.23L240.4 416.11ZM244.8 414.95L245.3 416.11L246.56 416.23L245.61 417.06L245.89 418.3L244.8 417.65L243.71 418.3L243.99 417.06L243.04 416.23L244.3 416.11ZM248.7 414.95L249.2 416.11L250.46 416.23L249.51 417.06L249.79 418.3L248.7 417.65L247.61 418.3L247.89 417.06L246.94 416.23L248.2 416.11Z"/>
<path d="M259.3 421.45L259.8 422.61L261.06 422.73L260.11 423.56L260.39 424.8L259.3 424.15L258.21 424.8L258.49 423.56L257.54 422.73L258.8 422.61ZM263.2 421.45L263.7 422.61L264.96 422.73L264.01 423.56L264.29 424.8L263.2 424.15L262.11 424.8L262.39 423.56L261.44 422.73L262.7 422.61ZM267.1 421.45L267.6 422.61L268.86 422.73L267.91 423.56L268.19 424.8L267.1 424.15L266.01 424.8L266.29 423.56L265.34 422.73L266.6 422.61Z"/>
<path d="M285.5 426.75L286 427.91L287.26 428.03L286.31 428.86L286.59 430.1L285.5 429.45L284.41 430.1L284.69 428.86L283.74 428.03L285 427.91ZM289.4 426.75L289.9 427.91L291.16 428.03L290.21 428.86L290.49 430.1L289.4 429.45L288.31 430.1L288.59 428.86L287.64 428.03L288.9 427.91ZM293.3 426.75L293.8 427.91L295.06 428.03L294.11 428.86L294.39 430.1L293.3 429.45L292.21 430.1L292.49 428.86L291.54 428.03L292.8 427.91Z"/>
<path d="M312.3 421.45L312.8 422.61L314.06 422.73L313.11 423.56L313.39 424.8L312.3 424.15L311.21 424.8L311.49 423.56L310.54 422.73L311.8 422.61ZM316.2 421.45L316.7 422.61L317.96 422.73L317.01 423.56L317.29 424.8L316.2 424.15L315.11 424.8L315.39 423.56L314.44 422.73L315.7 422.61ZM320.1 421.45L320.6 422.61L321.86 422.73L320.91 423.56L321.19 424.8L320.1 424.15L319.01 424.8L319.29 423.56L318.34 422.73L319.6 422.61Z"/>
<path d="M259.3 440.95L259.8 442.11L261.06 442.23L260.11 443.06L260.39 444.3L259.3 443.65L258.21 444.3L258.49 443.06L257.54 442.23L258.8 442.11ZM263.2 440.95L263.7 442.11L264.96 442.23L264.01 443.06L264.29 444.3L263.2 443.65L262.11 444.3L262.39 443.06L261.44 442.23L262.7 442.11ZM267.1 440.95L267.6 442.11L268.86 442.23L267.91 443.06L268.19 444.3L267.1 443.65L266.01 444.3L266.29 443.06L265.34 442.23L266.6 442.11Z"/>
<path d="M284.7 444.75L285.2 445.91L286.46 446.03L285.51 446.86L285.79 448.1L284.7 447.45L283.61 448.1L283.89 446.86L282.94 446.03L284.2 445.91ZM288.6 444.75L289.1 445.91L290.36 446.03L289.41 446.86L289.69 448.1L288.6 447.45L287.51 448.1L287.79 446.86L286.84 446.03L288.1 445.91ZM292.5 444.75L293 445.91L294.26 446.03L293.31 446.86L293.59 448.1L292.5 447.45L291.41 448.1L291.69 446.86L290.74 446.03L292 445.91Z"/>
<path d="M312.3 441.25L312.8 442.41L314.06 442.53L313.11 443.36L313.39 444.6L312.3 443.95L311.21 444.6L311.49 443.36L310.54 442.53L311.8 442.41ZM316.2 441.25L316.7 442.41L317.96 442.53L317.01 443.36L317.29 444.6L316.2 443.95L315.11 444.6L315.39 443.36L314.44 442.53L315.7 442.41ZM320.1 441.25L320.6 442.41L321.86 442.53L320.91 443.36L321.19 444.6L320.1 443.95L319.01 444.6L319.29 443.36L318.34 442.53L319.6 442.41Z"/>
<path d="M517.7 422.95L518.2 424.11L519.46 424.23L518.51 425.06L518.79 426.3L517.7 425.65L516.61 426.3L516.89 425.06L515.94 424.23L517.2 424.11ZM521.6 422.95L522.1 424.11L523.36 424.23L522.41 425.06L522.69 426.3L521.6 425.65L520.51 426.3L520.79 425.06L519.84 424.23L521.1 424.11ZM525.5 422.95L526 424.11L527.26 424.23L526.31 425.06L526.59 426.3L525.5 425.65L524.41 426.3L524.69 425.06L523.74 424.23L525 424.11Z"/>
<path d="M541.15 413.75L541.65 414.91L542.91 415.03L541.96 415.86L542.24 417.1L541.15 416.45L540.06 417.1L540.34 415.86L539.39 415.03L540.65 414.91ZM545.05 413.75L545.55 414.91L546.81 415.03L545.86 415.86L546.14 417.1L545.05 416.45L543.96 417.1L544.24 415.86L543.29 415.03L544.55 414.91Z"/>
<path d="M555.5 429.25L556 430.41L557.26 430.53L556.31 431.36L556.59 432.6L555.5 431.95L554.41 432.6L554.69 431.36L553.74 430.53L555 430.41ZM559.4 429.25L559.9 430.41L561.16 430.53L560.21 431.36L560.49 432.6L559.4 431.95L558.31 432.6L558.59 431.36L557.64 430.53L558.9 430.41ZM563.3 429.25L563.8 430.41L565.06 430.53L564.11 431.36L564.39 432.6L563.3 431.95L562.21 432.6L562.49 431.36L561.54 430.53L562.8 430.41Z"/>
<path d="M564.05 401.45L564.55 402.61L565.81 402.73L564.86 403.56L565.14 404.8L564.05 404.15L562.96 404.8L563.24 403.56L562.29 402.73L563.55 402.61ZM567.95 401.45L568.45 402.61L569.71 402.73L568.76 403.56L569.04 404.8L567.95 404.15L566.86 404.8L567.14 403.56L566.19 402.73L567.45 402.61Z"/>
<path d="M611.95 360.95L612.45 362.11L613.71 362.23L612.76 363.06L613.04 364.3L611.95 363.65L610.86 364.3L611.14 363.06L610.19 362.23L611.45 362.11ZM615.85 360.95L616.35 362.11L617.61 362.23L616.66 363.06L616.94 364.3L615.85 363.65L614.76 364.3L615.04 363.06L614.09 362.23L615.35 362.11Z"/>
<path d="M639.15 360.95L639.65 362.11L640.91 362.23L639.96 363.06L640.24 364.3L639.15 363.65L638.06 364.3L638.34 363.06L637.39 362.23L638.65 362.11ZM643.05 360.95L643.55 362.11L644.81 362.23L643.86 363.06L644.14 364.3L643.05 363.65L641.96 364.3L642.24 363.06L641.29 362.23L642.55 362.11Z"/>
<path d="M666.45 364.15L666.95 365.31L668.21 365.43L667.26 366.26L667.54 367.5L666.45 366.85L665.36 367.5L665.64 366.26L664.69 365.43L665.95 365.31ZM670.35 364.15L670.85 365.31L672.11 365.43L671.16 366.26L671.44 367.5L670.35 366.85L669.26 367.5L669.54 366.26L668.59 365.43L669.85 365.31Z"/>
<path d="M586.1 379.05L586.6 380.21L587.86 380.33L586.91 381.16L587.19 382.4L586.1 381.75L585.01 382.4L585.29 381.16L584.34 380.33L585.6 380.21Z"/>
<path d="M618.1 387.25L618.6 388.41L619.86 388.53L618.91 389.36L619.19 390.6L618.1 389.95L617.01 390.6L617.29 389.36L616.34 388.53L617.6 388.41ZM622 387.25L622.5 388.41L623.76 388.53L622.81 389.36L623.09 390.6L622 389.95L620.91 390.6L621.19 389.36L620.24 388.53L621.5 388.41ZM625.9 387.25L626.4 388.41L627.66 388.53L626.71 389.36L626.99 390.6L625.9 389.95L624.81 390.6L625.09 389.36L624.14 388.53L625.4 388.41Z"/>
<path d="M646.6 383.25L647.1 384.41L648.36 384.53L647.41 385.36L647.69 386.6L646.6 385.95L645.51 386.6L645.79 385.36L644.84 384.53L646.1 384.41ZM650.5 383.25L651 384.41L652.26 384.53L651.31 385.36L651.59 386.6L650.5 385.95L649.41 386.6L649.69 385.36L648.74 384.53L650 384.41ZM654.4 383.25L654.9 384.41L656.16 384.53L655.21 385.36L655.49 386.6L654.4 385.95L653.31 386.6L653.59 385.36L652.64 384.53L653.9 384.41Z"/>
<path d="M675.1 391.45L675.6 392.61L676.86 392.73L675.91 393.56L676.19 394.8L675.1 394.15L674.01 394.8L674.29 393.56L673.34 392.73L674.6 392.61ZM679 391.45L679.5 392.61L680.76 392.73L679.81 393.56L680.09 394.8L679 394.15L677.91 394.8L678.19 393.56L677.24 392.73L678.5 392.61ZM682.9 391.45L683.4 392.61L684.66 392.73L683.71 393.56L683.99 394.8L682.9 394.15L681.81 394.8L682.09 393.56L681.14 392.73L682.4 392.61Z"/>
<path d="M585.4 398.85L585.9 400.01L587.16 400.13L586.21 400.96L586.49 402.2L585.4 401.55L584.31 402.2L584.59 400.96L583.64 400.13L584.9 400.01ZM589.3 398.85L589.8 400.01L591.06 400.13L590.11 400.96L590.39 402.2L589.3 401.55L588.21 402.2L588.49 400.96L587.54 400.13L588.8 400.01ZM593.2 398.85L593.7 400.01L594.96 400.13L594.01 400.96L594.29 402.2L593.2 401.55L592.11 402.2L592.39 400.96L591.44 400.13L592.7 400.01Z"/>
<path d="M600.25 398.15L600.75 399.31L602.01 399.43L601.06 400.26L601.34 401.5L600.25 400.85L599.16 401.5L599.44 400.26L598.49 399.43L599.75 399.31ZM604.15 398.15L604.65 399.31L605.91 399.43L604.96 400.26L605.24 401.5L604.15 400.85L603.06 401.5L603.34 400.26L602.39 399.43L603.65 399.31Z"/>
<path d="M620.1 405.55L620.6 406.71L621.86 406.83L620.91 407.66L621.19 408.9L620.1 408.25L619.01 408.9L619.29 407.66L618.34 406.83L619.6 406.71ZM624 405.55L624.5 406.71L625.76 406.83L624.81 407.66L625.09 408.9L624 408.25L622.91 408.9L623.19 407.66L622.24 406.83L623.5 406.71ZM627.9 405.55L628.4 406.71L629.66 406.83L628.71 407.66L628.99 408.9L627.9 408.25L626.81 408.9L627.09 407.66L626.14 406.83L627.4 406.71Z"/>
<path d="M645.9 398.85L646.4 400.01L647.66 400.13L646.71 400.96L646.99 402.2L645.9 401.55L644.81 402.2L645.09 400.96L644.14 400.13L645.4 400.01ZM649.8 398.85L650.3 400.01L651.56 400.13L650.61 400.96L650.89 402.2L649.8 401.55L648.71 402.2L648.99 400.96L648.04 400.13L649.3 400.01ZM653.7 398.85L654.2 400.01L655.46 400.13L654.51 400.96L654.79 402.2L653.7 401.55L652.61 402.2L652.89 400.96L651.94 400.13L653.2 400.01Z"/>
<path d="M664.5 406.35L665 407.51L666.26 407.63L665.31 408.46L665.59 409.7L664.5 409.05L663.41 409.7L663.69 408.46L662.74 407.63L664 407.51ZM668.4 406.35L668.9 407.51L670.16 407.63L669.21 408.46L669.49 409.7L668.4 409.05L667.31 409.7L667.59 408.46L666.64 407.63L667.9 407.51ZM672.3 406.35L672.8 407.51L674.06 407.63L673.11 408.46L673.39 409.7L672.3 409.05L671.21 409.7L671.49 408.46L670.54 407.63L671.8 407.51Z"/>
<path d="M578 417.45L578.5 418.61L579.76 418.73L578.81 419.56L579.09 420.8L578 420.15L576.91 420.8L577.19 419.56L576.24 418.73L577.5 418.61ZM581.9 417.45L582.4 418.61L583.66 418.73L582.71 419.56L582.99 420.8L581.9 420.15L580.81 420.8L581.09 419.56L580.14 418.73L581.4 418.61ZM585.8 417.45L586.3 418.61L587.56 418.73L586.61 419.56L586.89 420.8L585.8 420.15L584.71 420.8L584.99 419.56L584.04 418.73L585.3 418.61Z"/>
<path d="M593.4 413.75L593.9 414.91L595.16 415.03L594.21 415.86L594.49 417.1L593.4 416.45L592.31 417.1L592.59 415.86L591.64 415.03L592.9 414.91ZM597.3 413.75L597.8 414.91L599.06 415.03L598.11 415.86L598.39 417.1L597.3 416.45L596.21 417.1L596.49 415.86L595.54 415.03L596.8 414.91ZM601.2 413.75L601.7 414.91L602.96 415.03L602.01 415.86L602.29 417.1L601.2 416.45L600.11 417.1L600.39 415.86L599.44 415.03L600.7 414.91Z"/>
<path d="M610.2 418.75L610.7 419.91L611.96 420.03L611.01 420.86L611.29 422.1L610.2 421.45L609.11 422.1L609.39 420.86L608.44 420.03L609.7 419.91ZM614.1 418.75L614.6 419.91L615.86 420.03L614.91 420.86L615.19 422.1L614.1 421.45L613.01 422.1L613.29 420.86L612.34 420.03L613.6 419.91ZM618 418.75L618.5 419.91L619.76 420.03L618.81 420.86L619.09 422.1L618 421.45L616.91 422.1L617.19 420.86L616.24 420.03L617.5 419.91Z"/>
<path d="M637.2 416.95L637.7 418.11L638.96 418.23L638.01 419.06L638.29 420.3L637.2 419.65L636.11 420.3L636.39 419.06L635.44 418.23L636.7 418.11ZM641.1 416.95L641.6 418.11L642.86 418.23L641.91 419.06L642.19 420.3L641.1 419.65L640.01 420.3L640.29 419.06L639.34 418.23L640.6 418.11ZM645 416.95L645.5 418.11L646.76 418.23L645.81 419.06L646.09 420.3L645 419.65L643.91 420.3L644.19 419.06L643.24 418.23L644.5 418.11Z"/>
<path d="M664.5 428.65L665 429.81L666.26 429.93L665.31 430.76L665.59 432L664.5 431.35L663.41 432L663.69 430.76L662.74 429.93L664 429.81ZM668.4 428.65L668.9 429.81L670.16 429.93L669.21 430.76L669.49 432L668.4 431.35L667.31 432L667.59 430.76L666.64 429.93L667.9 429.81ZM672.3 428.65L672.8 429.81L674.06 429.93L673.11 430.76L673.39 432L672.3 431.35L671.21 432L671.49 430.76L670.54 429.93L671.8 429.81Z"/>
</g></svg></body></html>
